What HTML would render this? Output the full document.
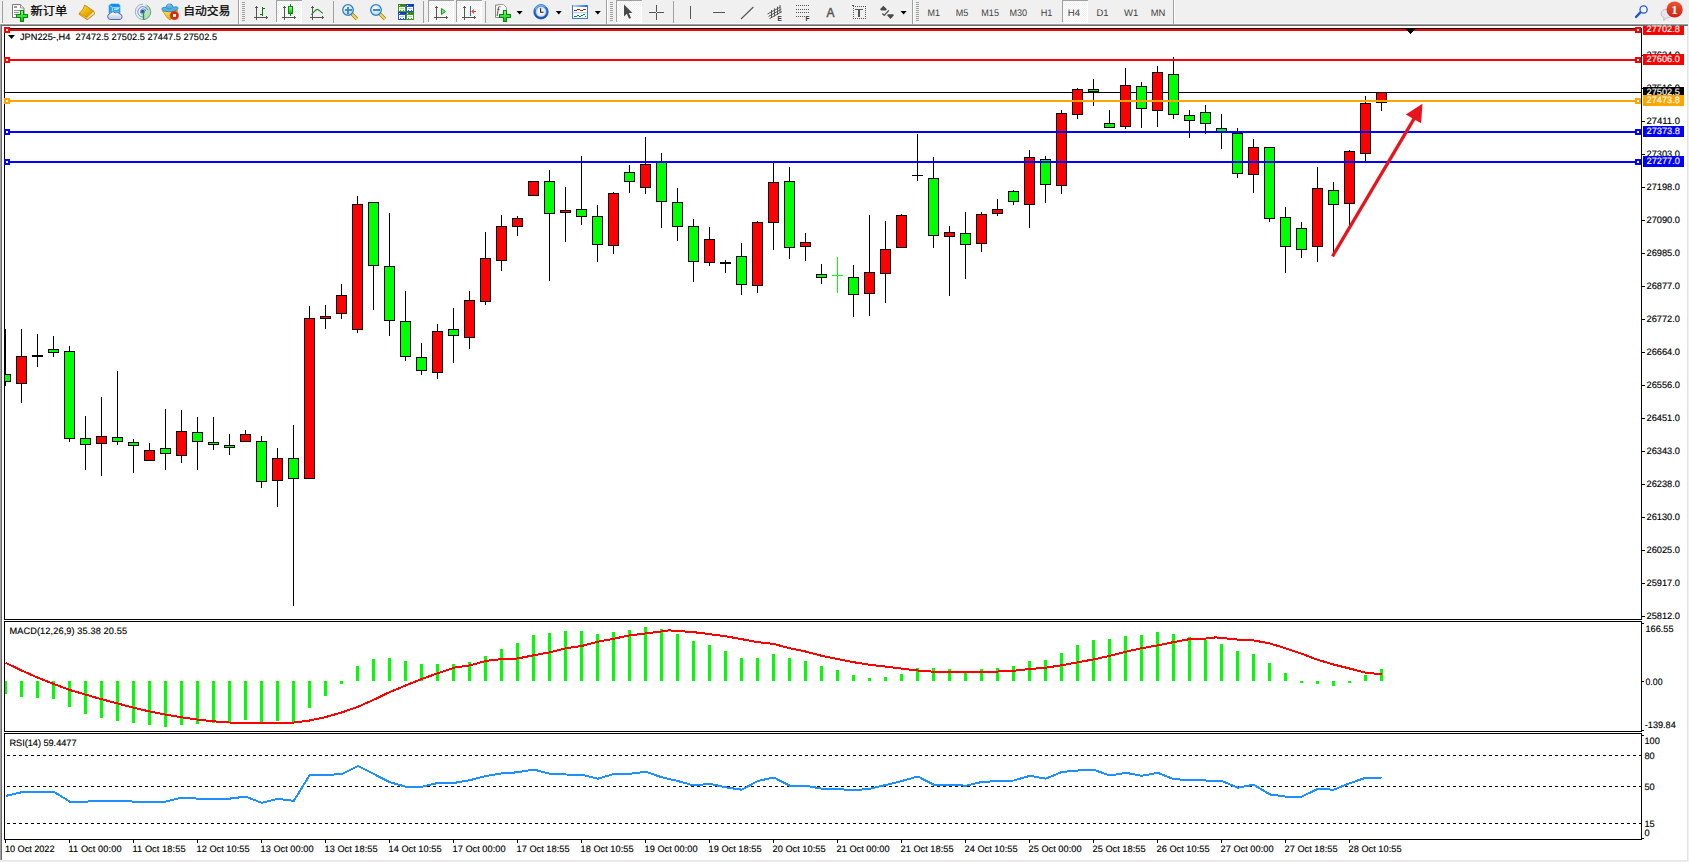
<!DOCTYPE html>
<html lang="zh"><head><meta charset="utf-8"><title>JPN225-,H4</title>
<style>html,body{margin:0;padding:0;background:#fff;overflow:hidden}body{width:1689px;height:862px;font-family:"Liberation Sans","Noto Sans CJK SC",sans-serif}svg{display:block}.t{font-family:"Liberation Sans","Noto Sans CJK SC",sans-serif;font-size:9.2px;fill:#000;stroke:#000;stroke-width:0.15px;text-rendering:geometricPrecision}.w{fill:#fff;stroke:#fff}.tb{font-family:"Liberation Sans","Noto Sans CJK SC",sans-serif;font-size:11.2px;fill:#000;stroke:#000;stroke-width:0.25px}.tf{font-family:"Liberation Sans","Noto Sans CJK SC",sans-serif;font-size:9.6px;fill:#404040;text-rendering:geometricPrecision}.c{shape-rendering:crispEdges}</style></head><body>
<svg width="1689" height="862" viewBox="0 0 1689 862">
<g class="c">
<rect x="0" y="0" width="1689" height="862" fill="#f0f0f0"/>
<rect x="0" y="24" width="1688" height="836" fill="#ffffff"/>
<rect x="0" y="23" width="1689" height="1" fill="#f8f8f8"/>
<rect x="0" y="24" width="1688" height="1" fill="#a0a0a0"/>
<rect x="0" y="25" width="1688" height="1" fill="#696969"/>
<rect x="0" y="24" width="1" height="836" fill="#a0a0a0"/>
<rect x="1" y="25" width="1" height="835" fill="#696969"/>
<rect x="1687" y="26" width="1" height="834" fill="#e3e3e3"/>
<rect x="2" y="860" width="1686" height="1" fill="#e3e3e3"/>
<rect x="1688" y="24" width="1" height="838" fill="#f0f0f0"/>
</g>
<defs><linearGradient id="gGold" x1="0" y1="0" x2="1" y2="1"><stop offset="0" stop-color="#ffe14a"/><stop offset="0.5" stop-color="#f0b400"/><stop offset="1" stop-color="#c98a00"/></linearGradient><linearGradient id="gCloud" x1="0" y1="0" x2="0" y2="1"><stop offset="0" stop-color="#ffffff"/><stop offset="1" stop-color="#b9c6de"/></linearGradient><linearGradient id="gBlue" x1="0" y1="0" x2="0" y2="1"><stop offset="0" stop-color="#0a8cf5"/><stop offset="1" stop-color="#35b0ff"/></linearGradient><linearGradient id="gGreen" x1="0" y1="0" x2="0" y2="1"><stop offset="0" stop-color="#7dff7d"/><stop offset="1" stop-color="#00c000"/></linearGradient><linearGradient id="gBadge" x1="0" y1="0" x2="0" y2="1"><stop offset="0" stop-color="#ea5636"/><stop offset="1" stop-color="#d21f0e"/></linearGradient><linearGradient id="gClock" x1="0" y1="0" x2="0" y2="1"><stop offset="0" stop-color="#2f86e6"/><stop offset="1" stop-color="#0d4fb0"/></linearGradient><radialGradient id="gLens" cx="0.4" cy="0.35" r="0.7"><stop offset="0" stop-color="#ffffff"/><stop offset="1" stop-color="#a8d4f5"/></radialGradient><pattern id="dith" width="2" height="2" patternUnits="userSpaceOnUse"><rect width="2" height="2" fill="#ffffff"/><rect width="1" height="1" fill="#f0f0f0"/><rect x="1" y="1" width="1" height="1" fill="#f0f0f0"/></pattern></defs>
<g class="c">
<rect x="2" y="1" width="1" height="22" fill="#a0a0a0"/>
<rect x="238" y="0" width="1" height="24" fill="#a0a0a0"/>
<rect x="239" y="0" width="1" height="24" fill="#ffffff"/>
<rect x="242" y="2" width="3" height="1" fill="#a0a0a0"/>
<rect x="242" y="4" width="3" height="1" fill="#a0a0a0"/>
<rect x="242" y="6" width="3" height="1" fill="#a0a0a0"/>
<rect x="242" y="8" width="3" height="1" fill="#a0a0a0"/>
<rect x="242" y="10" width="3" height="1" fill="#a0a0a0"/>
<rect x="242" y="12" width="3" height="1" fill="#a0a0a0"/>
<rect x="242" y="14" width="3" height="1" fill="#a0a0a0"/>
<rect x="242" y="16" width="3" height="1" fill="#a0a0a0"/>
<rect x="242" y="18" width="3" height="1" fill="#a0a0a0"/>
<rect x="242" y="20" width="3" height="1" fill="#a0a0a0"/>
<rect x="333" y="1" width="1" height="22" fill="#a0a0a0"/>
<rect x="423" y="1" width="1" height="22" fill="#a0a0a0"/>
<rect x="485" y="1" width="1" height="22" fill="#a0a0a0"/>
<rect x="606" y="0" width="1" height="24" fill="#a0a0a0"/>
<rect x="607" y="0" width="1" height="24" fill="#ffffff"/>
<rect x="610" y="2" width="3" height="1" fill="#a0a0a0"/>
<rect x="610" y="4" width="3" height="1" fill="#a0a0a0"/>
<rect x="610" y="6" width="3" height="1" fill="#a0a0a0"/>
<rect x="610" y="8" width="3" height="1" fill="#a0a0a0"/>
<rect x="610" y="10" width="3" height="1" fill="#a0a0a0"/>
<rect x="610" y="12" width="3" height="1" fill="#a0a0a0"/>
<rect x="610" y="14" width="3" height="1" fill="#a0a0a0"/>
<rect x="610" y="16" width="3" height="1" fill="#a0a0a0"/>
<rect x="610" y="18" width="3" height="1" fill="#a0a0a0"/>
<rect x="610" y="20" width="3" height="1" fill="#a0a0a0"/>
<rect x="673" y="1" width="1" height="22" fill="#a0a0a0"/>
<rect x="912" y="0" width="1" height="24" fill="#a0a0a0"/>
<rect x="913" y="0" width="1" height="24" fill="#ffffff"/>
<rect x="916" y="2" width="3" height="1" fill="#a0a0a0"/>
<rect x="916" y="4" width="3" height="1" fill="#a0a0a0"/>
<rect x="916" y="6" width="3" height="1" fill="#a0a0a0"/>
<rect x="916" y="8" width="3" height="1" fill="#a0a0a0"/>
<rect x="916" y="10" width="3" height="1" fill="#a0a0a0"/>
<rect x="916" y="12" width="3" height="1" fill="#a0a0a0"/>
<rect x="916" y="14" width="3" height="1" fill="#a0a0a0"/>
<rect x="916" y="16" width="3" height="1" fill="#a0a0a0"/>
<rect x="916" y="18" width="3" height="1" fill="#a0a0a0"/>
<rect x="916" y="20" width="3" height="1" fill="#a0a0a0"/>
<rect x="1173" y="0" width="1" height="24" fill="#a0a0a0"/>
<rect x="1174" y="0" width="1" height="24" fill="#ffffff"/>
<rect x="276" y="0" width="26" height="23" fill="url(#dith)"/>
<rect x="276" y="0" width="26" height="1" fill="#a0a0a0"/>
<rect x="276" y="0" width="1" height="22" fill="#a0a0a0"/>
<rect x="301" y="1" width="1" height="22" fill="#ffffff"/>
<rect x="276" y="22" width="26" height="1" fill="#ffffff"/>
<rect x="428" y="0" width="26" height="23" fill="url(#dith)"/>
<rect x="428" y="0" width="26" height="1" fill="#a0a0a0"/>
<rect x="428" y="0" width="1" height="22" fill="#a0a0a0"/>
<rect x="453" y="1" width="1" height="22" fill="#ffffff"/>
<rect x="428" y="22" width="26" height="1" fill="#ffffff"/>
<rect x="456" y="0" width="26" height="23" fill="url(#dith)"/>
<rect x="456" y="0" width="26" height="1" fill="#a0a0a0"/>
<rect x="456" y="0" width="1" height="22" fill="#a0a0a0"/>
<rect x="481" y="1" width="1" height="22" fill="#ffffff"/>
<rect x="456" y="22" width="26" height="1" fill="#ffffff"/>
<rect x="616" y="0" width="26" height="23" fill="url(#dith)"/>
<rect x="616" y="0" width="26" height="1" fill="#a0a0a0"/>
<rect x="616" y="0" width="1" height="22" fill="#a0a0a0"/>
<rect x="641" y="1" width="1" height="22" fill="#ffffff"/>
<rect x="616" y="22" width="26" height="1" fill="#ffffff"/>
<rect x="1062" y="0" width="26" height="23" fill="url(#dith)"/>
<rect x="1062" y="0" width="26" height="1" fill="#a0a0a0"/>
<rect x="1062" y="0" width="1" height="22" fill="#a0a0a0"/>
<rect x="1087" y="1" width="1" height="22" fill="#ffffff"/>
<rect x="1062" y="22" width="26" height="1" fill="#ffffff"/>
</g>
<g>
<path d="M12.5 4.5 h8 l3.5 3.5 v9.5 h-11.5 z" fill="#fff" stroke="#7a7a7a" stroke-width="1"/>
<path d="M20.5 4.5 v3.5 h3.5" fill="#e8e8e8" stroke="#7a7a7a" stroke-width="0.8"/>
<g class="c">
<rect x="14" y="6" width="3" height="2" fill="#9a9a9a"/>
<rect x="14" y="10" width="6" height="1" fill="#8c8c8c"/>
<rect x="14" y="12" width="5" height="1" fill="#8c8c8c"/>
<rect x="14" y="14" width="3" height="1" fill="#8c8c8c"/>
</g>
<g class="c">
<rect x="20" y="10" width="4" height="12" fill="#0b860b"/>
<rect x="16" y="14" width="12" height="4" fill="#0b860b"/>
<rect x="21" y="11" width="2" height="10" fill="url(#gGreen)"/>
<rect x="17" y="15" width="10" height="2" fill="#35e535"/>
</g>
</g>
<text class="tb" x="30.5" y="15" textLength="36.8" lengthAdjust="spacingAndGlyphs">新订单</text>
<path d="M84.6 5.1 L93.6 10.9 L94.7 13.9 L87.3 19.7 L79 14.3 L79.6 12.9 Q83 10 83.9 7.3 Z" fill="#c98a10" stroke="#a8680a" stroke-width="0.7" stroke-linejoin="round"/>
<path d="M93.4 11.4 L94.4 13.8 L87.3 19.2 L87 17.4 Z" fill="#e9dc9a"/>
<path d="M79.4 13.4 L86.9 17.4 L87.2 19.3 L79.3 14.4 Z" fill="#e8b530"/>
<path d="M84.7 5.6 L93.3 11.1 L86.9 17 L79.9 12.9 Q83.2 10.2 84.2 7.4 Z" fill="url(#gGold)"/>
<path d="M109 5.2 L111.4 4 H118.6 L120 5.6 V13.6 H109 Z" fill="url(#gBlue)" stroke="#0a84ea" stroke-width="0.5"/>
<path d="M109.6 5.6 L112.4 7.6 V12.8 M112.4 7.6 H119.8" stroke="#e4f4ff" stroke-width="0.7" fill="none"/>
<path d="M114.2 9.3 L118.8 8.6" stroke="#ecf8ff" stroke-width="1.2" fill="none"/>
<path d="M114.4 11.6 H119" stroke="#7cc8ff" stroke-width="0.8" fill="none"/>
<path d="M110.4 19.5 a2.9 2.9 0 0 1 -0.6 -5.7 a3.3 3.3 0 0 1 5.4 -0.9 a3 3 0 0 1 4.4 1 a2.9 2.9 0 0 1 0.6 5.6 z" fill="url(#gCloud)" stroke="#40609e" stroke-width="0.9"/>
<g fill="none">
<path d="M143.3 11.8 L143.3 19.7 A7.8 7.8 0 0 0 150.8 11 A7.6 7.6 0 0 0 145 4.4 A 9 9 0 0 1 143.3 11.8 Z" fill="#8fcf8f" opacity="0.55"/>
<path d="M144 19.6 A7.8 7.8 0 0 0 150.7 11.6 A7.7 7.7 0 0 0 146.6 5" stroke="#3e8f6a" stroke-width="1" opacity="0.8"/>
<path d="M143 19.5 A7.7 7.7 0 0 1 143 4.1" stroke="#6a8fe0" stroke-width="1" opacity="0.7"/>
<path d="M143 17 A5.2 5.2 0 0 1 143 6.6 A5.2 5.2 0 0 1 147.8 10" stroke="#4a74d6" stroke-width="1" opacity="0.8"/>
<path d="M142.4 14.6 A3 3 0 0 1 143 8.8 A3 3 0 0 1 145.8 11" stroke="#3c66d0" stroke-width="0.9" opacity="0.85"/>
<circle cx="142.8" cy="11.6" r="1.9" fill="#2450c8"/>
<path d="M143.5 12 V19.8" stroke="#17a317" stroke-width="1.4"/>
</g>
<defs><linearGradient id="gFace" x1="0" y1="0" x2="0.6" y2="1"><stop offset="0" stop-color="#fbe978"/><stop offset="1" stop-color="#e2a800"/></linearGradient></defs>
<path d="M162.6 11 L177.8 10.4 L176.4 13.6 L170 19.9 L167.4 18 Z" fill="url(#gFace)" stroke="#c8900e" stroke-width="0.8" stroke-linejoin="round"/>
<path d="M161.9 9.4 C161.6 7.4 164 6.9 166 7.6 C166.4 5 167.6 4 169.6 4 C171.8 4 172.8 5 173.2 7.4 C175.4 6.4 178.2 6.4 178 8.4 C177.6 10.4 173.4 11.7 169.8 11.6 C166 11.6 162.2 11 161.9 9.4 Z" fill="#5ab2e2" stroke="#2083b6" stroke-width="0.8"/>
<path d="M166.4 8 C168 9 171.4 9 173 7.8" fill="none" stroke="#2083b6" stroke-width="0.6"/>
<path d="M167.4 6 C168 5 169.4 4.8 170.4 5" fill="none" stroke="#a8dcf4" stroke-width="0.8"/>
<circle cx="174.4" cy="15.6" r="4.1" fill="#e02a0c" stroke="#c01c06" stroke-width="0.5"/>
<rect x="173" y="14" width="3" height="3" fill="#ffffff" class="c"/>
<text class="tb" x="183.2" y="15" textLength="47.2" lengthAdjust="spacingAndGlyphs">自动交易</text>
<g class="c" fill="#555555">
<rect x="256" y="7" width="1" height="13" fill="#555555"/>
<rect x="254" y="17" width="13" height="1" fill="#555555"/>
<rect x="256" y="6" width="1" height="1" fill="#555555"/>
<rect x="255" y="7" width="3" height="1" fill="#555555"/>
<rect x="266" y="16" width="1" height="3" fill="#555555"/>
<rect x="267" y="17" width="1" height="1" fill="#555555"/>
</g>
<g class="c">
<rect x="262" y="7" width="1" height="9" fill="#008000"/>
<rect x="263" y="8" width="2" height="1" fill="#008000"/>
<rect x="260" y="14" width="2" height="1" fill="#008000"/>
</g>
<g class="c" fill="#555555">
<rect x="284" y="7" width="1" height="13" fill="#555555"/>
<rect x="282" y="17" width="13" height="1" fill="#555555"/>
<rect x="284" y="6" width="1" height="1" fill="#555555"/>
<rect x="283" y="7" width="3" height="1" fill="#555555"/>
<rect x="294" y="16" width="1" height="3" fill="#555555"/>
<rect x="295" y="17" width="1" height="1" fill="#555555"/>
</g>
<g class="c">
<rect x="290" y="4" width="1" height="12" fill="#0a8a0a"/>
<rect x="288" y="6" width="5" height="8" fill="#0a8a0a"/>
<rect x="289" y="7" width="3" height="6" fill="url(#gGreen)"/>
</g>
<g class="c" fill="#555555">
<rect x="312" y="7" width="1" height="13" fill="#555555"/>
<rect x="310" y="17" width="13" height="1" fill="#555555"/>
<rect x="312" y="6" width="1" height="1" fill="#555555"/>
<rect x="311" y="7" width="3" height="1" fill="#555555"/>
<rect x="322" y="16" width="1" height="3" fill="#555555"/>
<rect x="323" y="17" width="1" height="1" fill="#555555"/>
</g>
<path d="M311.2 14.6 C313.5 13 315 9.6 317.2 9.4 C319.4 9.4 320.6 12.6 323 13.2" fill="none" stroke="#2a8a2a" stroke-width="1.1"/>
<path d="M352 14 L357 19" stroke="#a87c14" stroke-width="3.4" stroke-linecap="butt"/>
<path d="M352 14 L357 19" stroke="#f0dc50" stroke-width="1.8" stroke-linecap="butt"/>
<circle cx="348" cy="10" r="5.3" fill="url(#gLens)" stroke="#2f7fc8" stroke-width="1.3"/>
<g class="c">
<rect x="344.5" y="9" width="7" height="2" fill="#3f8cb8"/>
<rect x="347" y="6.5" width="2" height="7" fill="#3f8cb8"/>
</g>
<path d="M380 14 L385 19" stroke="#a87c14" stroke-width="3.4" stroke-linecap="butt"/>
<path d="M380 14 L385 19" stroke="#f0dc50" stroke-width="1.8" stroke-linecap="butt"/>
<circle cx="376" cy="10" r="5.3" fill="url(#gLens)" stroke="#2f7fc8" stroke-width="1.3"/>
<g class="c">
<rect x="372.5" y="9" width="7" height="2" fill="#3f8cb8"/>
</g>
<g class="c">
<rect x="398" y="4" width="8" height="8" fill="#3f9c22"/>
<rect x="398" y="4" width="8" height="2" fill="#2e8a1c"/>
<rect x="399" y="5" width="1" height="1" fill="#dfe8ff"/>
<rect x="399" y="7" width="6" height="4" fill="#ffffff"/>
<rect x="400" y="10" width="1" height="1" fill="#3f9c22"/>
<rect x="403" y="10" width="1" height="1" fill="#3f9c22"/>
<rect x="400" y="8" width="4" height="1" fill="#a8dca0"/>
<rect x="406" y="4" width="8" height="8" fill="#2458d0"/>
<rect x="406" y="4" width="8" height="2" fill="#1440b0"/>
<rect x="407" y="5" width="1" height="1" fill="#dfe8ff"/>
<rect x="407" y="7" width="6" height="4" fill="#ffffff"/>
<rect x="408" y="10" width="1" height="1" fill="#2458d0"/>
<rect x="411" y="10" width="1" height="1" fill="#2458d0"/>
<rect x="408" y="8" width="4" height="1" fill="#a8c8f0"/>
<rect x="398" y="12" width="8" height="8" fill="#2458d0"/>
<rect x="398" y="12" width="8" height="2" fill="#1440b0"/>
<rect x="399" y="13" width="1" height="1" fill="#dfe8ff"/>
<rect x="399" y="15" width="6" height="4" fill="#ffffff"/>
<rect x="400" y="18" width="1" height="1" fill="#2458d0"/>
<rect x="403" y="18" width="1" height="1" fill="#2458d0"/>
<rect x="400" y="16" width="4" height="1" fill="#a8c8f0"/>
<rect x="406" y="12" width="8" height="8" fill="#3f9c22"/>
<rect x="406" y="12" width="8" height="2" fill="#2e8a1c"/>
<rect x="407" y="13" width="1" height="1" fill="#dfe8ff"/>
<rect x="407" y="15" width="6" height="4" fill="#ffffff"/>
<rect x="408" y="18" width="1" height="1" fill="#3f9c22"/>
<rect x="411" y="18" width="1" height="1" fill="#3f9c22"/>
<rect x="408" y="16" width="4" height="1" fill="#a8dca0"/>
</g>
<g class="c" fill="#555555">
<rect x="436" y="7" width="1" height="13" fill="#555555"/>
<rect x="434" y="17" width="13" height="1" fill="#555555"/>
<rect x="436" y="6" width="1" height="1" fill="#555555"/>
<rect x="435" y="7" width="3" height="1" fill="#555555"/>
<rect x="446" y="16" width="1" height="3" fill="#555555"/>
<rect x="447" y="17" width="1" height="1" fill="#555555"/>
</g>
<path d="M441.5 8.5 L445.5 11.5 L441.5 14.5 Z" fill="#7be07b" stroke="#1f9a1f" stroke-width="1"/>
<g class="c" fill="#555555">
<rect x="464" y="7" width="1" height="13" fill="#555555"/>
<rect x="462" y="17" width="13" height="1" fill="#555555"/>
<rect x="464" y="6" width="1" height="1" fill="#555555"/>
<rect x="463" y="7" width="3" height="1" fill="#555555"/>
<rect x="474" y="16" width="1" height="3" fill="#555555"/>
<rect x="475" y="17" width="1" height="1" fill="#555555"/>
</g>
<g class="c">
<rect x="470" y="6" width="1" height="10" fill="#1f6fb0"/>
</g>
<path d="M476 11.5 H472.2 M474 9.6 L472 11.5 L474 13.4" fill="none" stroke="#e04a10" stroke-width="1.1"/>
<path d="M495.5 5 h5.5 l3 3 v9.5 h-8.5 z" fill="#f4f4f4" stroke="#8a8a8a" stroke-width="1"/>
<path d="M498 4.5 h5.5 l3 3 v9 h-2" fill="#f8f8f8" stroke="#8a8a8a" stroke-width="0.8"/>
<text x="496.6" y="13.8" font-family="'Liberation Serif',serif" font-style="italic" font-size="10px" fill="#333">f</text>
<g class="c">
<rect x="503" y="10" width="4" height="12" fill="#0b860b"/>
<rect x="499" y="14" width="12" height="4" fill="#0b860b"/>
<rect x="504" y="11" width="2" height="10" fill="url(#gGreen)"/>
<rect x="500" y="15" width="10" height="2" fill="#35e535"/>
</g>
<path d="M516.6 11 h6 l-3 3.4 z" fill="#000"/>
<circle cx="541" cy="11.8" r="7.2" fill="url(#gClock)" stroke="#0c48a4" stroke-width="0.7"/>
<path d="M535.2 9.4 A6.3 6.3 0 0 1 545.6 7.2" fill="none" stroke="#7cc0ff" stroke-width="1.2" opacity="0.8"/>
<circle cx="541" cy="11.8" r="5" fill="#eef2f6" stroke="#a8c4e4" stroke-width="0.6"/>
<g fill="#8a98a8">
<circle cx="541.00" cy="7.80" r="0.35"/>
<circle cx="543.00" cy="8.34" r="0.35"/>
<circle cx="544.46" cy="9.80" r="0.35"/>
<circle cx="545.00" cy="11.80" r="0.35"/>
<circle cx="544.46" cy="13.80" r="0.35"/>
<circle cx="543.00" cy="15.26" r="0.35"/>
<circle cx="541.00" cy="15.80" r="0.35"/>
<circle cx="539.00" cy="15.26" r="0.35"/>
<circle cx="537.54" cy="13.80" r="0.35"/>
<circle cx="537.00" cy="11.80" r="0.35"/>
<circle cx="537.54" cy="9.80" r="0.35"/>
<circle cx="539.00" cy="8.34" r="0.35"/>
</g>
<path d="M540.6 8.2 V12.2 H543.6" fill="none" stroke="#222" stroke-width="1.1"/>
<path d="M555.8 11 h6 l-3 3.4 z" fill="#000"/>
<defs><linearGradient id="gHdr" x1="0" y1="0" x2="1" y2="0"><stop offset="0" stop-color="#b8d8f8"/><stop offset="1" stop-color="#2f6fd0"/></linearGradient></defs>
<g class="c">
<rect x="572" y="5" width="16" height="14" fill="#3f7cd4"/>
<rect x="573" y="7" width="14" height="11" fill="#ffffff"/>
<rect x="573" y="5" width="14" height="2" fill="url(#gHdr)"/>
<rect x="573" y="12" width="14" height="1" fill="#b4d0f0"/>
<rect x="573" y="13" width="14" height="5" fill="#f2f8ff"/>
<rect x="574" y="10" width="3" height="1" fill="#a82408"/>
<rect x="577" y="9" width="3" height="1" fill="#a82408"/>
<rect x="580" y="10" width="3" height="1" fill="#a82408"/>
<rect x="583" y="9" width="3" height="1" fill="#a82408"/>
<rect x="574" y="16" width="3" height="1" fill="#128a2a"/>
<rect x="577" y="15" width="2" height="1" fill="#128a2a"/>
<rect x="579" y="16" width="2" height="1" fill="#128a2a"/>
<rect x="581" y="15" width="2" height="1" fill="#128a2a"/>
<rect x="583" y="14" width="2" height="1" fill="#128a2a"/>
<rect x="585" y="16" width="1" height="1" fill="#128a2a"/>
</g>
<path d="M594.8 11 h6 l-3 3.4 z" fill="#000"/>
<path d="M624 4.6 V16.4 L626.8 13.8 L629 18.8 L631 17.9 L628.8 13 L632.4 13 Z" fill="#4a4a4a"/>
<g class="c">
<rect x="656" y="5" width="1" height="15" fill="#555555"/>
<rect x="649" y="12" width="15" height="1" fill="#555555"/>
<rect x="656" y="12" width="1" height="1" fill="#f0f0f0"/>
<rect x="690" y="6" width="1" height="13" fill="#555555"/>
<rect x="713" y="12" width="12" height="1" fill="#555555"/>
</g>
<path d="M741 19 L753.4 7" stroke="#555" stroke-width="1.1" fill="none"/>
<g stroke="#555" stroke-width="1" fill="none">
<path d="M767.5 14 L780.5 7 M769.5 18.6 L782 11.6 M768.6 16.4 L781.4 9.2"/>
<path d="M771.5 10 V18 M774.5 8.4 V16.4 M777.5 6.6 V14.8 M780 5 V12.8"/>
</g>
<text x="777.6" y="20.6" font-family="'Liberation Sans',sans-serif" font-weight="bold" font-size="6.5px" fill="#333">E</text>
<g class="c">
<rect x="796" y="5" width="1" height="1" fill="#555555"/>
<rect x="798" y="5" width="1" height="1" fill="#555555"/>
<rect x="800" y="5" width="1" height="1" fill="#555555"/>
<rect x="802" y="5" width="1" height="1" fill="#555555"/>
<rect x="804" y="5" width="1" height="1" fill="#555555"/>
<rect x="806" y="5" width="1" height="1" fill="#555555"/>
<rect x="808" y="5" width="1" height="1" fill="#555555"/>
<rect x="796" y="9" width="1" height="1" fill="#555555"/>
<rect x="798" y="9" width="1" height="1" fill="#555555"/>
<rect x="800" y="9" width="1" height="1" fill="#555555"/>
<rect x="802" y="9" width="1" height="1" fill="#555555"/>
<rect x="804" y="9" width="1" height="1" fill="#555555"/>
<rect x="806" y="9" width="1" height="1" fill="#555555"/>
<rect x="808" y="9" width="1" height="1" fill="#555555"/>
<rect x="796" y="12" width="1" height="1" fill="#555555"/>
<rect x="798" y="12" width="1" height="1" fill="#555555"/>
<rect x="800" y="12" width="1" height="1" fill="#555555"/>
<rect x="802" y="12" width="1" height="1" fill="#555555"/>
<rect x="804" y="12" width="1" height="1" fill="#555555"/>
<rect x="806" y="12" width="1" height="1" fill="#555555"/>
<rect x="808" y="12" width="1" height="1" fill="#555555"/>
<rect x="796" y="16" width="1" height="1" fill="#555555"/>
<rect x="798" y="16" width="1" height="1" fill="#555555"/>
<rect x="800" y="16" width="1" height="1" fill="#555555"/>
<rect x="802" y="16" width="1" height="1" fill="#555555"/>
<rect x="804" y="16" width="1" height="1" fill="#555555"/>
</g>
<text x="805.6" y="21" font-family="'Liberation Sans',sans-serif" font-weight="bold" font-size="6.5px" fill="#333">F</text>
<text x="826.6" y="17" font-family="'Liberation Sans',sans-serif" font-size="12.4px" fill="#555" stroke="#555" stroke-width="0.45" textLength="8" lengthAdjust="spacingAndGlyphs">A</text>
<g class="c">
<rect x="853" y="6" width="1" height="1" fill="#555555"/>
<rect x="853" y="18" width="1" height="1" fill="#555555"/>
<rect x="855" y="6" width="1" height="1" fill="#555555"/>
<rect x="855" y="18" width="1" height="1" fill="#555555"/>
<rect x="857" y="6" width="1" height="1" fill="#555555"/>
<rect x="857" y="18" width="1" height="1" fill="#555555"/>
<rect x="859" y="6" width="1" height="1" fill="#555555"/>
<rect x="859" y="18" width="1" height="1" fill="#555555"/>
<rect x="861" y="6" width="1" height="1" fill="#555555"/>
<rect x="861" y="18" width="1" height="1" fill="#555555"/>
<rect x="863" y="6" width="1" height="1" fill="#555555"/>
<rect x="863" y="18" width="1" height="1" fill="#555555"/>
<rect x="865" y="6" width="1" height="1" fill="#555555"/>
<rect x="865" y="18" width="1" height="1" fill="#555555"/>
<rect x="853" y="6" width="1" height="1" fill="#555555"/>
<rect x="865" y="6" width="1" height="1" fill="#555555"/>
<rect x="853" y="8" width="1" height="1" fill="#555555"/>
<rect x="865" y="8" width="1" height="1" fill="#555555"/>
<rect x="853" y="10" width="1" height="1" fill="#555555"/>
<rect x="865" y="10" width="1" height="1" fill="#555555"/>
<rect x="853" y="12" width="1" height="1" fill="#555555"/>
<rect x="865" y="12" width="1" height="1" fill="#555555"/>
<rect x="853" y="14" width="1" height="1" fill="#555555"/>
<rect x="865" y="14" width="1" height="1" fill="#555555"/>
<rect x="853" y="16" width="1" height="1" fill="#555555"/>
<rect x="865" y="16" width="1" height="1" fill="#555555"/>
<rect x="853" y="18" width="1" height="1" fill="#555555"/>
<rect x="865" y="18" width="1" height="1" fill="#555555"/>
<rect x="855" y="9" width="8" height="1" fill="#555"/>
<rect x="858" y="9" width="2" height="8" fill="#555"/>
<rect x="852" y="5" width="2" height="1" fill="#555"/>
</g>
<path d="M880 9.2 L883.4 5.8 L886.9 9.2 L885.8 10.4 L881.2 10.4 Z M887 15.2 L888 14.2 L893 14.2 L894 15.2 L890.5 18.9 Z" fill="#4a4a4a"/>
<path d="M882.3 13.6 L884.3 15.4 L888.8 10.4" fill="none" stroke="#4a4a4a" stroke-width="1.3"/>
<path d="M900.6 11 h6 l-3 3.4 z" fill="#000"/>
<text class="tf" x="927.4" y="16" textLength="12.5" lengthAdjust="spacingAndGlyphs">M1</text>
<text class="tf" x="955.8" y="16" textLength="12.5" lengthAdjust="spacingAndGlyphs">M5</text>
<text class="tf" x="981.3" y="16" textLength="17.7" lengthAdjust="spacingAndGlyphs">M15</text>
<text class="tf" x="1009.4" y="16" textLength="17.6" lengthAdjust="spacingAndGlyphs">M30</text>
<text class="tf" x="1040.7" y="16" textLength="11.7" lengthAdjust="spacingAndGlyphs">H1</text>
<text class="tf" x="1067.7" y="16" textLength="12.3" lengthAdjust="spacingAndGlyphs">H4</text>
<text class="tf" x="1096.4" y="16" textLength="12.1" lengthAdjust="spacingAndGlyphs">D1</text>
<text class="tf" x="1124" y="16" textLength="14.3" lengthAdjust="spacingAndGlyphs">W1</text>
<text class="tf" x="1150.7" y="16" textLength="14.6" lengthAdjust="spacingAndGlyphs">MN</text>
<path d="M1640.4 12.4 L1636 17" stroke="#1f56c8" stroke-width="2.4" stroke-linecap="round"/>
<circle cx="1643.6" cy="9.5" r="3.6" fill="#f4f6ff" stroke="#2458d0" stroke-width="1.3"/>
<path d="M1661 13.4 a5.6 4.4 0 1 1 5.4 4.6 l-2.6 2.6 l0.2 -2.9 a5.4 4.4 0 0 1 -3 -4.3 z" fill="#e4e6f2" stroke="#b4b4b8" stroke-width="0.8"/>
<circle cx="1674.6" cy="9.5" r="8.1" fill="url(#gBadge)"/>
<text x="1674.6" y="14" text-anchor="middle" font-family="'Liberation Serif',serif" font-weight="bold" font-size="13px" fill="#fff">1</text>
<g class="c">
<rect x="4" y="28" width="1638" height="1" fill="#000"/>
<rect x="4" y="28" width="1" height="592" fill="#000"/>
<rect x="1641" y="28" width="1" height="592" fill="#000"/>
<rect x="4" y="619" width="1638" height="1" fill="#000"/>
<rect x="4" y="621" width="1638" height="1" fill="#000"/>
<rect x="4" y="621" width="1" height="111" fill="#000"/>
<rect x="1641" y="621" width="1" height="111" fill="#000"/>
<rect x="4" y="731" width="1638" height="1" fill="#000"/>
<rect x="4" y="733" width="1638" height="1" fill="#000"/>
<rect x="4" y="733" width="1" height="107" fill="#000"/>
<rect x="1641" y="733" width="1" height="107" fill="#000"/>
<rect x="4" y="839" width="1638" height="1" fill="#000"/>
</g>
<g class="c">
<rect x="5" y="92" width="1636" height="1" fill="#000"/>
<rect x="5" y="329" width="1" height="57" fill="#000"/>
<rect x="5" y="374" width="6" height="8" fill="#000"/>
<rect x="5" y="375" width="5" height="6" fill="#00ff00"/>
<rect x="21" y="329" width="1" height="74" fill="#000"/>
<rect x="16" y="356" width="11" height="28" fill="#000"/>
<rect x="17" y="357" width="9" height="26" fill="#ff0000"/>
<rect x="37" y="334" width="1" height="33" fill="#000"/>
<rect x="32" y="355" width="11" height="2" fill="#000"/>
<rect x="53" y="336" width="1" height="21" fill="#000"/>
<rect x="48" y="349" width="11" height="4" fill="#000"/>
<rect x="49" y="350" width="9" height="2" fill="#00ff00"/>
<rect x="69" y="346" width="1" height="96" fill="#000"/>
<rect x="64" y="351" width="11" height="88" fill="#000"/>
<rect x="65" y="352" width="9" height="86" fill="#00ff00"/>
<rect x="85" y="416" width="1" height="54" fill="#000"/>
<rect x="80" y="438" width="11" height="7" fill="#000"/>
<rect x="81" y="439" width="9" height="5" fill="#00ff00"/>
<rect x="101" y="397" width="1" height="79" fill="#000"/>
<rect x="96" y="436" width="11" height="8" fill="#000"/>
<rect x="97" y="437" width="9" height="6" fill="#ff0000"/>
<rect x="117" y="371" width="1" height="74" fill="#000"/>
<rect x="112" y="437" width="11" height="5" fill="#000"/>
<rect x="113" y="438" width="9" height="3" fill="#00ff00"/>
<rect x="133" y="439" width="1" height="34" fill="#000"/>
<rect x="128" y="442" width="11" height="4" fill="#000"/>
<rect x="129" y="443" width="9" height="2" fill="#00ff00"/>
<rect x="149" y="443" width="1" height="18" fill="#000"/>
<rect x="144" y="450" width="11" height="11" fill="#000"/>
<rect x="145" y="451" width="9" height="9" fill="#ff0000"/>
<rect x="165" y="409" width="1" height="61" fill="#000"/>
<rect x="160" y="448" width="11" height="6" fill="#000"/>
<rect x="161" y="449" width="9" height="4" fill="#00ff00"/>
<rect x="181" y="410" width="1" height="53" fill="#000"/>
<rect x="176" y="431" width="11" height="25" fill="#000"/>
<rect x="177" y="432" width="9" height="23" fill="#ff0000"/>
<rect x="197" y="417" width="1" height="53" fill="#000"/>
<rect x="192" y="432" width="11" height="10" fill="#000"/>
<rect x="193" y="433" width="9" height="8" fill="#00ff00"/>
<rect x="213" y="417" width="1" height="33" fill="#000"/>
<rect x="208" y="442" width="11" height="3" fill="#000"/>
<rect x="209" y="443" width="9" height="1" fill="#00ff00"/>
<rect x="229" y="434" width="1" height="21" fill="#000"/>
<rect x="224" y="445" width="11" height="3" fill="#000"/>
<rect x="225" y="446" width="9" height="1" fill="#00ff00"/>
<rect x="245" y="430" width="1" height="12" fill="#000"/>
<rect x="240" y="434" width="11" height="8" fill="#000"/>
<rect x="241" y="435" width="9" height="6" fill="#ff0000"/>
<rect x="261" y="436" width="1" height="52" fill="#000"/>
<rect x="256" y="441" width="11" height="41" fill="#000"/>
<rect x="257" y="442" width="9" height="39" fill="#00ff00"/>
<rect x="277" y="448" width="1" height="59" fill="#000"/>
<rect x="272" y="458" width="11" height="23" fill="#000"/>
<rect x="273" y="459" width="9" height="21" fill="#ff0000"/>
<rect x="293" y="425" width="1" height="181" fill="#000"/>
<rect x="288" y="458" width="11" height="21" fill="#000"/>
<rect x="289" y="459" width="9" height="19" fill="#00ff00"/>
<rect x="309" y="306" width="1" height="173" fill="#000"/>
<rect x="304" y="318" width="11" height="161" fill="#000"/>
<rect x="305" y="319" width="9" height="159" fill="#ff0000"/>
<rect x="325" y="305" width="1" height="24" fill="#000"/>
<rect x="320" y="316" width="11" height="3" fill="#000"/>
<rect x="321" y="317" width="9" height="1" fill="#ff0000"/>
<rect x="341" y="284" width="1" height="35" fill="#000"/>
<rect x="336" y="295" width="11" height="19" fill="#000"/>
<rect x="337" y="296" width="9" height="17" fill="#ff0000"/>
<rect x="357" y="196" width="1" height="137" fill="#000"/>
<rect x="352" y="204" width="11" height="126" fill="#000"/>
<rect x="353" y="205" width="9" height="124" fill="#ff0000"/>
<rect x="373" y="202" width="1" height="108" fill="#000"/>
<rect x="368" y="202" width="11" height="64" fill="#000"/>
<rect x="369" y="203" width="9" height="62" fill="#00ff00"/>
<rect x="389" y="213" width="1" height="123" fill="#000"/>
<rect x="384" y="266" width="11" height="55" fill="#000"/>
<rect x="385" y="267" width="9" height="53" fill="#00ff00"/>
<rect x="405" y="291" width="1" height="70" fill="#000"/>
<rect x="400" y="321" width="11" height="36" fill="#000"/>
<rect x="401" y="322" width="9" height="34" fill="#00ff00"/>
<rect x="421" y="343" width="1" height="32" fill="#000"/>
<rect x="416" y="357" width="11" height="14" fill="#000"/>
<rect x="417" y="358" width="9" height="12" fill="#00ff00"/>
<rect x="437" y="324" width="1" height="55" fill="#000"/>
<rect x="432" y="331" width="11" height="42" fill="#000"/>
<rect x="433" y="332" width="9" height="40" fill="#ff0000"/>
<rect x="453" y="308" width="1" height="55" fill="#000"/>
<rect x="448" y="329" width="11" height="7" fill="#000"/>
<rect x="449" y="330" width="9" height="5" fill="#00ff00"/>
<rect x="469" y="291" width="1" height="58" fill="#000"/>
<rect x="464" y="300" width="11" height="38" fill="#000"/>
<rect x="465" y="301" width="9" height="36" fill="#ff0000"/>
<rect x="485" y="232" width="1" height="73" fill="#000"/>
<rect x="480" y="258" width="11" height="44" fill="#000"/>
<rect x="481" y="259" width="9" height="42" fill="#ff0000"/>
<rect x="501" y="215" width="1" height="56" fill="#000"/>
<rect x="496" y="226" width="11" height="35" fill="#000"/>
<rect x="497" y="227" width="9" height="33" fill="#ff0000"/>
<rect x="517" y="216" width="1" height="20" fill="#000"/>
<rect x="512" y="218" width="11" height="9" fill="#000"/>
<rect x="513" y="219" width="9" height="7" fill="#ff0000"/>
<rect x="533" y="181" width="1" height="15" fill="#000"/>
<rect x="528" y="181" width="11" height="15" fill="#000"/>
<rect x="529" y="182" width="9" height="13" fill="#ff0000"/>
<rect x="549" y="170" width="1" height="111" fill="#000"/>
<rect x="544" y="181" width="11" height="33" fill="#000"/>
<rect x="545" y="182" width="9" height="31" fill="#00ff00"/>
<rect x="565" y="187" width="1" height="55" fill="#000"/>
<rect x="560" y="210" width="11" height="3" fill="#000"/>
<rect x="561" y="211" width="9" height="1" fill="#ff0000"/>
<rect x="581" y="156" width="1" height="69" fill="#000"/>
<rect x="576" y="209" width="11" height="8" fill="#000"/>
<rect x="577" y="210" width="9" height="6" fill="#00ff00"/>
<rect x="597" y="205" width="1" height="57" fill="#000"/>
<rect x="592" y="216" width="11" height="29" fill="#000"/>
<rect x="593" y="217" width="9" height="27" fill="#00ff00"/>
<rect x="613" y="192" width="1" height="62" fill="#000"/>
<rect x="608" y="193" width="11" height="53" fill="#000"/>
<rect x="609" y="194" width="9" height="51" fill="#ff0000"/>
<rect x="629" y="165" width="1" height="28" fill="#000"/>
<rect x="624" y="172" width="11" height="10" fill="#000"/>
<rect x="625" y="173" width="9" height="8" fill="#00ff00"/>
<rect x="645" y="137" width="1" height="57" fill="#000"/>
<rect x="640" y="164" width="11" height="24" fill="#000"/>
<rect x="641" y="165" width="9" height="22" fill="#ff0000"/>
<rect x="661" y="153" width="1" height="75" fill="#000"/>
<rect x="656" y="162" width="11" height="40" fill="#000"/>
<rect x="657" y="163" width="9" height="38" fill="#00ff00"/>
<rect x="677" y="188" width="1" height="53" fill="#000"/>
<rect x="672" y="202" width="11" height="25" fill="#000"/>
<rect x="673" y="203" width="9" height="23" fill="#00ff00"/>
<rect x="693" y="219" width="1" height="63" fill="#000"/>
<rect x="688" y="226" width="11" height="36" fill="#000"/>
<rect x="689" y="227" width="9" height="34" fill="#00ff00"/>
<rect x="709" y="227" width="1" height="39" fill="#000"/>
<rect x="704" y="239" width="11" height="24" fill="#000"/>
<rect x="705" y="240" width="9" height="22" fill="#ff0000"/>
<rect x="725" y="260" width="1" height="13" fill="#000"/>
<rect x="720" y="262" width="11" height="2" fill="#000"/>
<rect x="741" y="243" width="1" height="52" fill="#000"/>
<rect x="736" y="256" width="11" height="29" fill="#000"/>
<rect x="737" y="257" width="9" height="27" fill="#00ff00"/>
<rect x="757" y="221" width="1" height="72" fill="#000"/>
<rect x="752" y="222" width="11" height="64" fill="#000"/>
<rect x="753" y="223" width="9" height="62" fill="#ff0000"/>
<rect x="773" y="163" width="1" height="87" fill="#000"/>
<rect x="768" y="182" width="11" height="41" fill="#000"/>
<rect x="769" y="183" width="9" height="39" fill="#ff0000"/>
<rect x="789" y="167" width="1" height="92" fill="#000"/>
<rect x="784" y="181" width="11" height="67" fill="#000"/>
<rect x="785" y="182" width="9" height="65" fill="#00ff00"/>
<rect x="805" y="233" width="1" height="28" fill="#000"/>
<rect x="800" y="242" width="11" height="5" fill="#000"/>
<rect x="801" y="243" width="9" height="3" fill="#ff0000"/>
<rect x="821" y="264" width="1" height="20" fill="#000"/>
<rect x="816" y="274" width="11" height="4" fill="#000"/>
<rect x="817" y="275" width="9" height="2" fill="#00ff00"/>
<rect x="837" y="257" width="1" height="36" fill="#00ff00"/>
<rect x="832" y="275" width="11" height="1" fill="#00ff00"/>
<rect x="853" y="265" width="1" height="52" fill="#000"/>
<rect x="848" y="277" width="11" height="18" fill="#000"/>
<rect x="849" y="278" width="9" height="16" fill="#00ff00"/>
<rect x="869" y="215" width="1" height="101" fill="#000"/>
<rect x="864" y="272" width="11" height="22" fill="#000"/>
<rect x="865" y="273" width="9" height="20" fill="#ff0000"/>
<rect x="885" y="221" width="1" height="82" fill="#000"/>
<rect x="880" y="249" width="11" height="25" fill="#000"/>
<rect x="881" y="250" width="9" height="23" fill="#ff0000"/>
<rect x="901" y="214" width="1" height="34" fill="#000"/>
<rect x="896" y="215" width="11" height="33" fill="#000"/>
<rect x="897" y="216" width="9" height="31" fill="#ff0000"/>
<rect x="917" y="134" width="1" height="47" fill="#000"/>
<rect x="912" y="175" width="11" height="1" fill="#000"/>
<rect x="933" y="157" width="1" height="91" fill="#000"/>
<rect x="928" y="178" width="11" height="58" fill="#000"/>
<rect x="929" y="179" width="9" height="56" fill="#00ff00"/>
<rect x="949" y="226" width="1" height="70" fill="#000"/>
<rect x="944" y="232" width="11" height="5" fill="#000"/>
<rect x="945" y="233" width="9" height="3" fill="#ff0000"/>
<rect x="965" y="212" width="1" height="67" fill="#000"/>
<rect x="960" y="233" width="11" height="12" fill="#000"/>
<rect x="961" y="234" width="9" height="10" fill="#00ff00"/>
<rect x="981" y="212" width="1" height="40" fill="#000"/>
<rect x="976" y="214" width="11" height="30" fill="#000"/>
<rect x="977" y="215" width="9" height="28" fill="#ff0000"/>
<rect x="997" y="199" width="1" height="17" fill="#000"/>
<rect x="992" y="209" width="11" height="5" fill="#000"/>
<rect x="993" y="210" width="9" height="3" fill="#ff0000"/>
<rect x="1013" y="190" width="1" height="15" fill="#000"/>
<rect x="1008" y="191" width="11" height="11" fill="#000"/>
<rect x="1009" y="192" width="9" height="9" fill="#00ff00"/>
<rect x="1029" y="150" width="1" height="78" fill="#000"/>
<rect x="1024" y="157" width="11" height="48" fill="#000"/>
<rect x="1025" y="158" width="9" height="46" fill="#ff0000"/>
<rect x="1045" y="156" width="1" height="47" fill="#000"/>
<rect x="1040" y="159" width="11" height="26" fill="#000"/>
<rect x="1041" y="160" width="9" height="24" fill="#00ff00"/>
<rect x="1061" y="110" width="1" height="84" fill="#000"/>
<rect x="1056" y="113" width="11" height="73" fill="#000"/>
<rect x="1057" y="114" width="9" height="71" fill="#ff0000"/>
<rect x="1077" y="88" width="1" height="31" fill="#000"/>
<rect x="1072" y="89" width="11" height="26" fill="#000"/>
<rect x="1073" y="90" width="9" height="24" fill="#ff0000"/>
<rect x="1093" y="79" width="1" height="27" fill="#000"/>
<rect x="1088" y="89" width="11" height="3" fill="#000"/>
<rect x="1089" y="90" width="9" height="1" fill="#00ff00"/>
<rect x="1109" y="110" width="1" height="18" fill="#000"/>
<rect x="1104" y="123" width="11" height="5" fill="#000"/>
<rect x="1105" y="124" width="9" height="3" fill="#00ff00"/>
<rect x="1125" y="68" width="1" height="61" fill="#000"/>
<rect x="1120" y="85" width="11" height="42" fill="#000"/>
<rect x="1121" y="86" width="9" height="40" fill="#ff0000"/>
<rect x="1141" y="82" width="1" height="46" fill="#000"/>
<rect x="1136" y="86" width="11" height="23" fill="#000"/>
<rect x="1137" y="87" width="9" height="21" fill="#00ff00"/>
<rect x="1157" y="66" width="1" height="61" fill="#000"/>
<rect x="1152" y="72" width="11" height="39" fill="#000"/>
<rect x="1153" y="73" width="9" height="37" fill="#ff0000"/>
<rect x="1173" y="57" width="1" height="62" fill="#000"/>
<rect x="1168" y="74" width="11" height="41" fill="#000"/>
<rect x="1169" y="75" width="9" height="39" fill="#00ff00"/>
<rect x="1189" y="110" width="1" height="28" fill="#000"/>
<rect x="1184" y="115" width="11" height="6" fill="#000"/>
<rect x="1185" y="116" width="9" height="4" fill="#00ff00"/>
<rect x="1205" y="105" width="1" height="29" fill="#000"/>
<rect x="1200" y="112" width="11" height="12" fill="#000"/>
<rect x="1201" y="113" width="9" height="10" fill="#00ff00"/>
<rect x="1221" y="114" width="1" height="35" fill="#000"/>
<rect x="1216" y="128" width="11" height="4" fill="#000"/>
<rect x="1217" y="129" width="9" height="2" fill="#00ff00"/>
<rect x="1237" y="128" width="1" height="50" fill="#000"/>
<rect x="1232" y="133" width="11" height="41" fill="#000"/>
<rect x="1233" y="134" width="9" height="39" fill="#00ff00"/>
<rect x="1253" y="139" width="1" height="54" fill="#000"/>
<rect x="1248" y="147" width="11" height="28" fill="#000"/>
<rect x="1249" y="148" width="9" height="26" fill="#ff0000"/>
<rect x="1269" y="147" width="1" height="75" fill="#000"/>
<rect x="1264" y="147" width="11" height="72" fill="#000"/>
<rect x="1265" y="148" width="9" height="70" fill="#00ff00"/>
<rect x="1285" y="207" width="1" height="66" fill="#000"/>
<rect x="1280" y="217" width="11" height="30" fill="#000"/>
<rect x="1281" y="218" width="9" height="28" fill="#00ff00"/>
<rect x="1301" y="222" width="1" height="36" fill="#000"/>
<rect x="1296" y="228" width="11" height="22" fill="#000"/>
<rect x="1297" y="229" width="9" height="20" fill="#00ff00"/>
<rect x="1317" y="167" width="1" height="95" fill="#000"/>
<rect x="1312" y="188" width="11" height="59" fill="#000"/>
<rect x="1313" y="189" width="9" height="57" fill="#ff0000"/>
<rect x="1333" y="182" width="1" height="72" fill="#000"/>
<rect x="1328" y="190" width="11" height="15" fill="#000"/>
<rect x="1329" y="191" width="9" height="13" fill="#00ff00"/>
<rect x="1349" y="150" width="1" height="75" fill="#000"/>
<rect x="1344" y="151" width="11" height="53" fill="#000"/>
<rect x="1345" y="152" width="9" height="51" fill="#ff0000"/>
<rect x="1365" y="96" width="1" height="65" fill="#000"/>
<rect x="1360" y="103" width="11" height="51" fill="#000"/>
<rect x="1361" y="104" width="9" height="49" fill="#ff0000"/>
<rect x="1381" y="92" width="1" height="19" fill="#000"/>
<rect x="1376" y="92" width="11" height="11" fill="#000"/>
<rect x="1377" y="93" width="9" height="9" fill="#ff0000"/>
</g>
<g class="c">
<rect x="5" y="29" width="1636" height="2" fill="#ff0000"/>
<rect x="4" y="27" width="6" height="6" fill="#ff0000"/>
<rect x="6" y="29" width="2" height="2" fill="#fff"/>
<rect x="1635" y="27" width="6" height="6" fill="#ff0000"/>
<rect x="1637" y="29" width="2" height="2" fill="#fff"/>
<rect x="5" y="59" width="1636" height="2" fill="#ff0000"/>
<rect x="4" y="57" width="6" height="6" fill="#ff0000"/>
<rect x="6" y="59" width="2" height="2" fill="#fff"/>
<rect x="1635" y="57" width="6" height="6" fill="#ff0000"/>
<rect x="1637" y="59" width="2" height="2" fill="#fff"/>
<rect x="5" y="100" width="1636" height="2" fill="#ffa500"/>
<rect x="4" y="98" width="6" height="6" fill="#ffa500"/>
<rect x="6" y="100" width="2" height="2" fill="#fff"/>
<rect x="1635" y="98" width="6" height="6" fill="#ffa500"/>
<rect x="1637" y="100" width="2" height="2" fill="#fff"/>
<rect x="5" y="131" width="1636" height="2" fill="#0000ff"/>
<rect x="4" y="129" width="6" height="6" fill="#0000ff"/>
<rect x="6" y="131" width="2" height="2" fill="#fff"/>
<rect x="1635" y="129" width="6" height="6" fill="#0000ff"/>
<rect x="1637" y="131" width="2" height="2" fill="#fff"/>
<rect x="5" y="161" width="1636" height="2" fill="#0000ff"/>
<rect x="4" y="159" width="6" height="6" fill="#0000ff"/>
<rect x="6" y="161" width="2" height="2" fill="#fff"/>
<rect x="1635" y="159" width="6" height="6" fill="#0000ff"/>
<rect x="1637" y="161" width="2" height="2" fill="#fff"/>
<rect x="1406" y="29" width="9" height="1" fill="#000"/>
<rect x="1407" y="30" width="7" height="1" fill="#000"/>
<rect x="1408" y="31" width="5" height="1" fill="#000"/>
<rect x="1409" y="32" width="3" height="1" fill="#000"/>
<rect x="1410" y="33" width="1" height="1" fill="#000"/>
</g>
<g class="c">
<rect x="1642" y="55" width="3" height="1" fill="#000"/>
<rect x="1642" y="88" width="3" height="1" fill="#000"/>
<rect x="1642" y="121" width="3" height="1" fill="#000"/>
<rect x="1642" y="154" width="3" height="1" fill="#000"/>
<rect x="1642" y="187" width="3" height="1" fill="#000"/>
<rect x="1642" y="220" width="3" height="1" fill="#000"/>
<rect x="1642" y="253" width="3" height="1" fill="#000"/>
<rect x="1642" y="286" width="3" height="1" fill="#000"/>
<rect x="1642" y="319" width="3" height="1" fill="#000"/>
<rect x="1642" y="352" width="3" height="1" fill="#000"/>
<rect x="1642" y="385" width="3" height="1" fill="#000"/>
<rect x="1642" y="418" width="3" height="1" fill="#000"/>
<rect x="1642" y="451" width="3" height="1" fill="#000"/>
<rect x="1642" y="484" width="3" height="1" fill="#000"/>
<rect x="1642" y="517" width="3" height="1" fill="#000"/>
<rect x="1642" y="550" width="3" height="1" fill="#000"/>
<rect x="1642" y="583" width="3" height="1" fill="#000"/>
<rect x="1642" y="616" width="3" height="1" fill="#000"/>
</g>
<text class="t" x="1646.5" y="58.4" textLength="33.5" lengthAdjust="spacingAndGlyphs">27624.0</text>
<text class="t" x="1646.5" y="91.4" textLength="33.5" lengthAdjust="spacingAndGlyphs">27516.0</text>
<text class="t" x="1646.5" y="124.4" textLength="33.5" lengthAdjust="spacingAndGlyphs">27411.0</text>
<text class="t" x="1646.5" y="157.4" textLength="33.5" lengthAdjust="spacingAndGlyphs">27303.0</text>
<text class="t" x="1646.5" y="190.4" textLength="33.5" lengthAdjust="spacingAndGlyphs">27198.0</text>
<text class="t" x="1646.5" y="223.4" textLength="33.5" lengthAdjust="spacingAndGlyphs">27090.0</text>
<text class="t" x="1646.5" y="256.4" textLength="33.5" lengthAdjust="spacingAndGlyphs">26985.0</text>
<text class="t" x="1646.5" y="289.4" textLength="33.5" lengthAdjust="spacingAndGlyphs">26877.0</text>
<text class="t" x="1646.5" y="322.4" textLength="33.5" lengthAdjust="spacingAndGlyphs">26772.0</text>
<text class="t" x="1646.5" y="355.4" textLength="33.5" lengthAdjust="spacingAndGlyphs">26664.0</text>
<text class="t" x="1646.5" y="388.4" textLength="33.5" lengthAdjust="spacingAndGlyphs">26556.0</text>
<text class="t" x="1646.5" y="421.4" textLength="33.5" lengthAdjust="spacingAndGlyphs">26451.0</text>
<text class="t" x="1646.5" y="454.4" textLength="33.5" lengthAdjust="spacingAndGlyphs">26343.0</text>
<text class="t" x="1646.5" y="487.4" textLength="33.5" lengthAdjust="spacingAndGlyphs">26238.0</text>
<text class="t" x="1646.5" y="520.4" textLength="33.5" lengthAdjust="spacingAndGlyphs">26130.0</text>
<text class="t" x="1646.5" y="553.4" textLength="33.5" lengthAdjust="spacingAndGlyphs">26025.0</text>
<text class="t" x="1646.5" y="586.4" textLength="33.5" lengthAdjust="spacingAndGlyphs">25917.0</text>
<text class="t" x="1646.5" y="619.4" textLength="33.5" lengthAdjust="spacingAndGlyphs">25812.0</text>
<g class="c">
<rect x="1643" y="26" width="41" height="9" fill="#ff0000"/>
<rect x="1643" y="54" width="41" height="11" fill="#ff0000"/>
<rect x="1643" y="87" width="41" height="11" fill="#000"/>
<rect x="1643" y="95" width="41" height="11" fill="#ffa500"/>
<rect x="1643" y="126" width="41" height="11" fill="#0000ff"/>
<rect x="1643" y="156" width="41" height="11" fill="#0000ff"/>
</g>
<text class="t w" x="1646.5" y="32.4" textLength="33.5" lengthAdjust="spacingAndGlyphs">27702.8</text>
<text class="t w" x="1646.5" y="62.4" textLength="33.5" lengthAdjust="spacingAndGlyphs">27606.0</text>
<text class="t w" x="1646.5" y="103.4" textLength="33.5" lengthAdjust="spacingAndGlyphs">27473.8</text>
<text class="t w" x="1646.5" y="134.4" textLength="33.5" lengthAdjust="spacingAndGlyphs">27373.8</text>
<text class="t w" x="1646.5" y="164.4" textLength="33.5" lengthAdjust="spacingAndGlyphs">27277.0</text>
<clipPath id="bidclip"><rect x="1643" y="87" width="41" height="8"/></clipPath>
<text class="t w" clip-path="url(#bidclip)" x="1646.5" y="95.2" textLength="33.5" lengthAdjust="spacingAndGlyphs">27502.5</text>
<path d="M8 35h7l-3.5 4z" fill="#000"/>
<text class="t" x="20" y="39.5" textLength="197" lengthAdjust="spacing" xml:space="preserve">JPN225-,H4  27472.5 27502.5 27447.5 27502.5</text>
<g class="c">
<rect x="5" y="681" width="2" height="13" fill="#00ff00"/>
<rect x="20" y="681" width="3" height="16" fill="#00ff00"/>
<rect x="36" y="681" width="3" height="17" fill="#00ff00"/>
<rect x="52" y="681" width="3" height="18" fill="#00ff00"/>
<rect x="68" y="681" width="3" height="26" fill="#00ff00"/>
<rect x="84" y="681" width="3" height="33" fill="#00ff00"/>
<rect x="100" y="681" width="3" height="37" fill="#00ff00"/>
<rect x="116" y="681" width="3" height="40" fill="#00ff00"/>
<rect x="132" y="681" width="3" height="42" fill="#00ff00"/>
<rect x="148" y="681" width="3" height="44" fill="#00ff00"/>
<rect x="164" y="681" width="3" height="46" fill="#00ff00"/>
<rect x="180" y="681" width="3" height="44" fill="#00ff00"/>
<rect x="196" y="681" width="3" height="43" fill="#00ff00"/>
<rect x="212" y="681" width="3" height="42" fill="#00ff00"/>
<rect x="228" y="681" width="3" height="41" fill="#00ff00"/>
<rect x="244" y="681" width="3" height="39" fill="#00ff00"/>
<rect x="260" y="681" width="3" height="41" fill="#00ff00"/>
<rect x="276" y="681" width="3" height="40" fill="#00ff00"/>
<rect x="292" y="681" width="3" height="41" fill="#00ff00"/>
<rect x="308" y="681" width="3" height="27" fill="#00ff00"/>
<rect x="324" y="681" width="3" height="15" fill="#00ff00"/>
<rect x="340" y="681" width="3" height="3" fill="#00ff00"/>
<rect x="356" y="666" width="3" height="15" fill="#00ff00"/>
<rect x="372" y="659" width="3" height="22" fill="#00ff00"/>
<rect x="388" y="658" width="3" height="23" fill="#00ff00"/>
<rect x="404" y="661" width="3" height="20" fill="#00ff00"/>
<rect x="420" y="664" width="3" height="17" fill="#00ff00"/>
<rect x="436" y="664" width="3" height="17" fill="#00ff00"/>
<rect x="452" y="664" width="3" height="17" fill="#00ff00"/>
<rect x="468" y="662" width="3" height="19" fill="#00ff00"/>
<rect x="484" y="656" width="3" height="25" fill="#00ff00"/>
<rect x="500" y="649" width="3" height="32" fill="#00ff00"/>
<rect x="516" y="643" width="3" height="38" fill="#00ff00"/>
<rect x="532" y="635" width="3" height="46" fill="#00ff00"/>
<rect x="548" y="633" width="3" height="48" fill="#00ff00"/>
<rect x="564" y="631" width="3" height="50" fill="#00ff00"/>
<rect x="580" y="631" width="3" height="50" fill="#00ff00"/>
<rect x="596" y="634" width="3" height="47" fill="#00ff00"/>
<rect x="612" y="632" width="3" height="49" fill="#00ff00"/>
<rect x="628" y="630" width="3" height="51" fill="#00ff00"/>
<rect x="644" y="627" width="3" height="54" fill="#00ff00"/>
<rect x="660" y="629" width="3" height="52" fill="#00ff00"/>
<rect x="676" y="634" width="3" height="47" fill="#00ff00"/>
<rect x="692" y="641" width="3" height="40" fill="#00ff00"/>
<rect x="708" y="645" width="3" height="36" fill="#00ff00"/>
<rect x="724" y="651" width="3" height="30" fill="#00ff00"/>
<rect x="740" y="658" width="3" height="23" fill="#00ff00"/>
<rect x="756" y="658" width="3" height="23" fill="#00ff00"/>
<rect x="772" y="654" width="3" height="27" fill="#00ff00"/>
<rect x="788" y="658" width="3" height="23" fill="#00ff00"/>
<rect x="804" y="661" width="3" height="20" fill="#00ff00"/>
<rect x="820" y="666" width="3" height="15" fill="#00ff00"/>
<rect x="836" y="670" width="3" height="11" fill="#00ff00"/>
<rect x="852" y="675" width="3" height="6" fill="#00ff00"/>
<rect x="868" y="678" width="3" height="3" fill="#00ff00"/>
<rect x="884" y="677" width="3" height="4" fill="#00ff00"/>
<rect x="900" y="674" width="3" height="7" fill="#00ff00"/>
<rect x="916" y="668" width="3" height="13" fill="#00ff00"/>
<rect x="932" y="668" width="3" height="13" fill="#00ff00"/>
<rect x="948" y="669" width="3" height="12" fill="#00ff00"/>
<rect x="964" y="671" width="3" height="10" fill="#00ff00"/>
<rect x="980" y="669" width="3" height="12" fill="#00ff00"/>
<rect x="996" y="668" width="3" height="13" fill="#00ff00"/>
<rect x="1012" y="666" width="3" height="15" fill="#00ff00"/>
<rect x="1028" y="661" width="3" height="20" fill="#00ff00"/>
<rect x="1044" y="660" width="3" height="21" fill="#00ff00"/>
<rect x="1060" y="653" width="3" height="28" fill="#00ff00"/>
<rect x="1076" y="645" width="3" height="36" fill="#00ff00"/>
<rect x="1092" y="640" width="3" height="41" fill="#00ff00"/>
<rect x="1108" y="639" width="3" height="42" fill="#00ff00"/>
<rect x="1124" y="636" width="3" height="45" fill="#00ff00"/>
<rect x="1140" y="635" width="3" height="46" fill="#00ff00"/>
<rect x="1156" y="632" width="3" height="49" fill="#00ff00"/>
<rect x="1172" y="634" width="3" height="47" fill="#00ff00"/>
<rect x="1188" y="637" width="3" height="44" fill="#00ff00"/>
<rect x="1204" y="640" width="3" height="41" fill="#00ff00"/>
<rect x="1220" y="644" width="3" height="37" fill="#00ff00"/>
<rect x="1236" y="651" width="3" height="30" fill="#00ff00"/>
<rect x="1252" y="654" width="3" height="27" fill="#00ff00"/>
<rect x="1268" y="663" width="3" height="18" fill="#00ff00"/>
<rect x="1284" y="673" width="3" height="8" fill="#00ff00"/>
<rect x="1300" y="681" width="3" height="2" fill="#00ff00"/>
<rect x="1316" y="681" width="3" height="3" fill="#00ff00"/>
<rect x="1332" y="681" width="3" height="5" fill="#00ff00"/>
<rect x="1348" y="681" width="3" height="2" fill="#00ff00"/>
<rect x="1364" y="675" width="3" height="6" fill="#00ff00"/>
<rect x="1380" y="669" width="3" height="12" fill="#00ff00"/>
</g>
<polyline points="5.6,662.8 21.6,670.5 37.9,677.7 53.6,684.0 70.2,690.1 85.6,694.6 100.1,698.8 117.6,703.5 134.9,708.0 149.6,711.5 164.6,714.5 181.6,717.3 197.1,719.5 213.6,721.3 229.4,722.5 245.6,723.0 261.6,723.0 277.6,723.0 294.1,722.5 309.6,720.5 323.9,717.5 340.6,712.8 356.2,707.5 372.6,700.3 388.6,692.6 400.6,687.6 421.6,679.0 437.9,673.2 454.1,667.7 470.2,665.3 486.4,660.8 502.6,659.0 517.6,658.5 533.6,655.3 549.8,652.3 566.0,648.3 582.1,645.9 598.3,641.6 614.5,638.6 629.4,635.4 645.6,633.4 661.6,631.4 669.2,630.4 677.9,630.9 694.1,632.2 710.2,634.2 726.4,636.4 741.3,639.1 757.5,642.1 773.6,643.9 789.8,648.3 806.0,651.6 821.6,655.8 837.9,659.0 854.1,662.3 870.2,664.8 886.4,666.7 902.6,668.7 917.6,670.5 933.6,671.7 949.8,672.0 966.0,672.0 982.1,672.0 998.3,671.5 1014.5,670.7 1029.4,669.0 1045.6,667.7 1061.6,665.3 1077.9,662.3 1094.1,659.3 1110.2,655.8 1126.4,651.6 1141.3,648.3 1157.5,645.4 1173.6,642.1 1189.6,639.1 1205.6,638.6 1215.4,637.4 1221.6,637.9 1237.6,639.6 1253.6,640.4 1269.6,643.4 1285.6,648.3 1301.6,653.6 1317.6,659.8 1333.6,664.5 1349.6,668.5 1365.6,672.7 1381.6,674.2" fill="none" stroke="#ff0000" stroke-width="2" stroke-linejoin="round" shape-rendering="crispEdges"/>
<text class="t" x="9.5" y="633.5" textLength="117.5" lengthAdjust="spacing">MACD(12,26,9) 35.38 20.55</text>
<g class="c">
<rect x="1642" y="623" width="2" height="1" fill="#000"/>
<rect x="1642" y="681" width="2" height="1" fill="#000"/>
<rect x="1642" y="730" width="2" height="1" fill="#000"/>
</g>
<text class="t" x="1645.5" y="631.5" textLength="28" lengthAdjust="spacingAndGlyphs">166.55</text>
<text class="t" x="1645.5" y="684.5" textLength="17" lengthAdjust="spacingAndGlyphs">0.00</text>
<text class="t" x="1644.8" y="727.5" textLength="31" lengthAdjust="spacingAndGlyphs">-139.84</text>
<g class="c">
<rect x="7" y="755" width="3" height="1" fill="#000"/>
<rect x="13" y="755" width="3" height="1" fill="#000"/>
<rect x="19" y="755" width="3" height="1" fill="#000"/>
<rect x="25" y="755" width="3" height="1" fill="#000"/>
<rect x="31" y="755" width="3" height="1" fill="#000"/>
<rect x="37" y="755" width="3" height="1" fill="#000"/>
<rect x="43" y="755" width="3" height="1" fill="#000"/>
<rect x="49" y="755" width="3" height="1" fill="#000"/>
<rect x="55" y="755" width="3" height="1" fill="#000"/>
<rect x="61" y="755" width="3" height="1" fill="#000"/>
<rect x="67" y="755" width="3" height="1" fill="#000"/>
<rect x="73" y="755" width="3" height="1" fill="#000"/>
<rect x="79" y="755" width="3" height="1" fill="#000"/>
<rect x="85" y="755" width="3" height="1" fill="#000"/>
<rect x="91" y="755" width="3" height="1" fill="#000"/>
<rect x="97" y="755" width="3" height="1" fill="#000"/>
<rect x="103" y="755" width="3" height="1" fill="#000"/>
<rect x="109" y="755" width="3" height="1" fill="#000"/>
<rect x="115" y="755" width="3" height="1" fill="#000"/>
<rect x="121" y="755" width="3" height="1" fill="#000"/>
<rect x="127" y="755" width="3" height="1" fill="#000"/>
<rect x="133" y="755" width="3" height="1" fill="#000"/>
<rect x="139" y="755" width="3" height="1" fill="#000"/>
<rect x="145" y="755" width="3" height="1" fill="#000"/>
<rect x="151" y="755" width="3" height="1" fill="#000"/>
<rect x="157" y="755" width="3" height="1" fill="#000"/>
<rect x="163" y="755" width="3" height="1" fill="#000"/>
<rect x="169" y="755" width="3" height="1" fill="#000"/>
<rect x="175" y="755" width="3" height="1" fill="#000"/>
<rect x="181" y="755" width="3" height="1" fill="#000"/>
<rect x="187" y="755" width="3" height="1" fill="#000"/>
<rect x="193" y="755" width="3" height="1" fill="#000"/>
<rect x="199" y="755" width="3" height="1" fill="#000"/>
<rect x="205" y="755" width="3" height="1" fill="#000"/>
<rect x="211" y="755" width="3" height="1" fill="#000"/>
<rect x="217" y="755" width="3" height="1" fill="#000"/>
<rect x="223" y="755" width="3" height="1" fill="#000"/>
<rect x="229" y="755" width="3" height="1" fill="#000"/>
<rect x="235" y="755" width="3" height="1" fill="#000"/>
<rect x="241" y="755" width="3" height="1" fill="#000"/>
<rect x="247" y="755" width="3" height="1" fill="#000"/>
<rect x="253" y="755" width="3" height="1" fill="#000"/>
<rect x="259" y="755" width="3" height="1" fill="#000"/>
<rect x="265" y="755" width="3" height="1" fill="#000"/>
<rect x="271" y="755" width="3" height="1" fill="#000"/>
<rect x="277" y="755" width="3" height="1" fill="#000"/>
<rect x="283" y="755" width="3" height="1" fill="#000"/>
<rect x="289" y="755" width="3" height="1" fill="#000"/>
<rect x="295" y="755" width="3" height="1" fill="#000"/>
<rect x="301" y="755" width="3" height="1" fill="#000"/>
<rect x="307" y="755" width="3" height="1" fill="#000"/>
<rect x="313" y="755" width="3" height="1" fill="#000"/>
<rect x="319" y="755" width="3" height="1" fill="#000"/>
<rect x="325" y="755" width="3" height="1" fill="#000"/>
<rect x="331" y="755" width="3" height="1" fill="#000"/>
<rect x="337" y="755" width="3" height="1" fill="#000"/>
<rect x="343" y="755" width="3" height="1" fill="#000"/>
<rect x="349" y="755" width="3" height="1" fill="#000"/>
<rect x="355" y="755" width="3" height="1" fill="#000"/>
<rect x="361" y="755" width="3" height="1" fill="#000"/>
<rect x="367" y="755" width="3" height="1" fill="#000"/>
<rect x="373" y="755" width="3" height="1" fill="#000"/>
<rect x="379" y="755" width="3" height="1" fill="#000"/>
<rect x="385" y="755" width="3" height="1" fill="#000"/>
<rect x="391" y="755" width="3" height="1" fill="#000"/>
<rect x="397" y="755" width="3" height="1" fill="#000"/>
<rect x="403" y="755" width="3" height="1" fill="#000"/>
<rect x="409" y="755" width="3" height="1" fill="#000"/>
<rect x="415" y="755" width="3" height="1" fill="#000"/>
<rect x="421" y="755" width="3" height="1" fill="#000"/>
<rect x="427" y="755" width="3" height="1" fill="#000"/>
<rect x="433" y="755" width="3" height="1" fill="#000"/>
<rect x="439" y="755" width="3" height="1" fill="#000"/>
<rect x="445" y="755" width="3" height="1" fill="#000"/>
<rect x="451" y="755" width="3" height="1" fill="#000"/>
<rect x="457" y="755" width="3" height="1" fill="#000"/>
<rect x="463" y="755" width="3" height="1" fill="#000"/>
<rect x="469" y="755" width="3" height="1" fill="#000"/>
<rect x="475" y="755" width="3" height="1" fill="#000"/>
<rect x="481" y="755" width="3" height="1" fill="#000"/>
<rect x="487" y="755" width="3" height="1" fill="#000"/>
<rect x="493" y="755" width="3" height="1" fill="#000"/>
<rect x="499" y="755" width="3" height="1" fill="#000"/>
<rect x="505" y="755" width="3" height="1" fill="#000"/>
<rect x="511" y="755" width="3" height="1" fill="#000"/>
<rect x="517" y="755" width="3" height="1" fill="#000"/>
<rect x="523" y="755" width="3" height="1" fill="#000"/>
<rect x="529" y="755" width="3" height="1" fill="#000"/>
<rect x="535" y="755" width="3" height="1" fill="#000"/>
<rect x="541" y="755" width="3" height="1" fill="#000"/>
<rect x="547" y="755" width="3" height="1" fill="#000"/>
<rect x="553" y="755" width="3" height="1" fill="#000"/>
<rect x="559" y="755" width="3" height="1" fill="#000"/>
<rect x="565" y="755" width="3" height="1" fill="#000"/>
<rect x="571" y="755" width="3" height="1" fill="#000"/>
<rect x="577" y="755" width="3" height="1" fill="#000"/>
<rect x="583" y="755" width="3" height="1" fill="#000"/>
<rect x="589" y="755" width="3" height="1" fill="#000"/>
<rect x="595" y="755" width="3" height="1" fill="#000"/>
<rect x="601" y="755" width="3" height="1" fill="#000"/>
<rect x="607" y="755" width="3" height="1" fill="#000"/>
<rect x="613" y="755" width="3" height="1" fill="#000"/>
<rect x="619" y="755" width="3" height="1" fill="#000"/>
<rect x="625" y="755" width="3" height="1" fill="#000"/>
<rect x="631" y="755" width="3" height="1" fill="#000"/>
<rect x="637" y="755" width="3" height="1" fill="#000"/>
<rect x="643" y="755" width="3" height="1" fill="#000"/>
<rect x="649" y="755" width="3" height="1" fill="#000"/>
<rect x="655" y="755" width="3" height="1" fill="#000"/>
<rect x="661" y="755" width="3" height="1" fill="#000"/>
<rect x="667" y="755" width="3" height="1" fill="#000"/>
<rect x="673" y="755" width="3" height="1" fill="#000"/>
<rect x="679" y="755" width="3" height="1" fill="#000"/>
<rect x="685" y="755" width="3" height="1" fill="#000"/>
<rect x="691" y="755" width="3" height="1" fill="#000"/>
<rect x="697" y="755" width="3" height="1" fill="#000"/>
<rect x="703" y="755" width="3" height="1" fill="#000"/>
<rect x="709" y="755" width="3" height="1" fill="#000"/>
<rect x="715" y="755" width="3" height="1" fill="#000"/>
<rect x="721" y="755" width="3" height="1" fill="#000"/>
<rect x="727" y="755" width="3" height="1" fill="#000"/>
<rect x="733" y="755" width="3" height="1" fill="#000"/>
<rect x="739" y="755" width="3" height="1" fill="#000"/>
<rect x="745" y="755" width="3" height="1" fill="#000"/>
<rect x="751" y="755" width="3" height="1" fill="#000"/>
<rect x="757" y="755" width="3" height="1" fill="#000"/>
<rect x="763" y="755" width="3" height="1" fill="#000"/>
<rect x="769" y="755" width="3" height="1" fill="#000"/>
<rect x="775" y="755" width="3" height="1" fill="#000"/>
<rect x="781" y="755" width="3" height="1" fill="#000"/>
<rect x="787" y="755" width="3" height="1" fill="#000"/>
<rect x="793" y="755" width="3" height="1" fill="#000"/>
<rect x="799" y="755" width="3" height="1" fill="#000"/>
<rect x="805" y="755" width="3" height="1" fill="#000"/>
<rect x="811" y="755" width="3" height="1" fill="#000"/>
<rect x="817" y="755" width="3" height="1" fill="#000"/>
<rect x="823" y="755" width="3" height="1" fill="#000"/>
<rect x="829" y="755" width="3" height="1" fill="#000"/>
<rect x="835" y="755" width="3" height="1" fill="#000"/>
<rect x="841" y="755" width="3" height="1" fill="#000"/>
<rect x="847" y="755" width="3" height="1" fill="#000"/>
<rect x="853" y="755" width="3" height="1" fill="#000"/>
<rect x="859" y="755" width="3" height="1" fill="#000"/>
<rect x="865" y="755" width="3" height="1" fill="#000"/>
<rect x="871" y="755" width="3" height="1" fill="#000"/>
<rect x="877" y="755" width="3" height="1" fill="#000"/>
<rect x="883" y="755" width="3" height="1" fill="#000"/>
<rect x="889" y="755" width="3" height="1" fill="#000"/>
<rect x="895" y="755" width="3" height="1" fill="#000"/>
<rect x="901" y="755" width="3" height="1" fill="#000"/>
<rect x="907" y="755" width="3" height="1" fill="#000"/>
<rect x="913" y="755" width="3" height="1" fill="#000"/>
<rect x="919" y="755" width="3" height="1" fill="#000"/>
<rect x="925" y="755" width="3" height="1" fill="#000"/>
<rect x="931" y="755" width="3" height="1" fill="#000"/>
<rect x="937" y="755" width="3" height="1" fill="#000"/>
<rect x="943" y="755" width="3" height="1" fill="#000"/>
<rect x="949" y="755" width="3" height="1" fill="#000"/>
<rect x="955" y="755" width="3" height="1" fill="#000"/>
<rect x="961" y="755" width="3" height="1" fill="#000"/>
<rect x="967" y="755" width="3" height="1" fill="#000"/>
<rect x="973" y="755" width="3" height="1" fill="#000"/>
<rect x="979" y="755" width="3" height="1" fill="#000"/>
<rect x="985" y="755" width="3" height="1" fill="#000"/>
<rect x="991" y="755" width="3" height="1" fill="#000"/>
<rect x="997" y="755" width="3" height="1" fill="#000"/>
<rect x="1003" y="755" width="3" height="1" fill="#000"/>
<rect x="1009" y="755" width="3" height="1" fill="#000"/>
<rect x="1015" y="755" width="3" height="1" fill="#000"/>
<rect x="1021" y="755" width="3" height="1" fill="#000"/>
<rect x="1027" y="755" width="3" height="1" fill="#000"/>
<rect x="1033" y="755" width="3" height="1" fill="#000"/>
<rect x="1039" y="755" width="3" height="1" fill="#000"/>
<rect x="1045" y="755" width="3" height="1" fill="#000"/>
<rect x="1051" y="755" width="3" height="1" fill="#000"/>
<rect x="1057" y="755" width="3" height="1" fill="#000"/>
<rect x="1063" y="755" width="3" height="1" fill="#000"/>
<rect x="1069" y="755" width="3" height="1" fill="#000"/>
<rect x="1075" y="755" width="3" height="1" fill="#000"/>
<rect x="1081" y="755" width="3" height="1" fill="#000"/>
<rect x="1087" y="755" width="3" height="1" fill="#000"/>
<rect x="1093" y="755" width="3" height="1" fill="#000"/>
<rect x="1099" y="755" width="3" height="1" fill="#000"/>
<rect x="1105" y="755" width="3" height="1" fill="#000"/>
<rect x="1111" y="755" width="3" height="1" fill="#000"/>
<rect x="1117" y="755" width="3" height="1" fill="#000"/>
<rect x="1123" y="755" width="3" height="1" fill="#000"/>
<rect x="1129" y="755" width="3" height="1" fill="#000"/>
<rect x="1135" y="755" width="3" height="1" fill="#000"/>
<rect x="1141" y="755" width="3" height="1" fill="#000"/>
<rect x="1147" y="755" width="3" height="1" fill="#000"/>
<rect x="1153" y="755" width="3" height="1" fill="#000"/>
<rect x="1159" y="755" width="3" height="1" fill="#000"/>
<rect x="1165" y="755" width="3" height="1" fill="#000"/>
<rect x="1171" y="755" width="3" height="1" fill="#000"/>
<rect x="1177" y="755" width="3" height="1" fill="#000"/>
<rect x="1183" y="755" width="3" height="1" fill="#000"/>
<rect x="1189" y="755" width="3" height="1" fill="#000"/>
<rect x="1195" y="755" width="3" height="1" fill="#000"/>
<rect x="1201" y="755" width="3" height="1" fill="#000"/>
<rect x="1207" y="755" width="3" height="1" fill="#000"/>
<rect x="1213" y="755" width="3" height="1" fill="#000"/>
<rect x="1219" y="755" width="3" height="1" fill="#000"/>
<rect x="1225" y="755" width="3" height="1" fill="#000"/>
<rect x="1231" y="755" width="3" height="1" fill="#000"/>
<rect x="1237" y="755" width="3" height="1" fill="#000"/>
<rect x="1243" y="755" width="3" height="1" fill="#000"/>
<rect x="1249" y="755" width="3" height="1" fill="#000"/>
<rect x="1255" y="755" width="3" height="1" fill="#000"/>
<rect x="1261" y="755" width="3" height="1" fill="#000"/>
<rect x="1267" y="755" width="3" height="1" fill="#000"/>
<rect x="1273" y="755" width="3" height="1" fill="#000"/>
<rect x="1279" y="755" width="3" height="1" fill="#000"/>
<rect x="1285" y="755" width="3" height="1" fill="#000"/>
<rect x="1291" y="755" width="3" height="1" fill="#000"/>
<rect x="1297" y="755" width="3" height="1" fill="#000"/>
<rect x="1303" y="755" width="3" height="1" fill="#000"/>
<rect x="1309" y="755" width="3" height="1" fill="#000"/>
<rect x="1315" y="755" width="3" height="1" fill="#000"/>
<rect x="1321" y="755" width="3" height="1" fill="#000"/>
<rect x="1327" y="755" width="3" height="1" fill="#000"/>
<rect x="1333" y="755" width="3" height="1" fill="#000"/>
<rect x="1339" y="755" width="3" height="1" fill="#000"/>
<rect x="1345" y="755" width="3" height="1" fill="#000"/>
<rect x="1351" y="755" width="3" height="1" fill="#000"/>
<rect x="1357" y="755" width="3" height="1" fill="#000"/>
<rect x="1363" y="755" width="3" height="1" fill="#000"/>
<rect x="1369" y="755" width="3" height="1" fill="#000"/>
<rect x="1375" y="755" width="3" height="1" fill="#000"/>
<rect x="1381" y="755" width="3" height="1" fill="#000"/>
<rect x="1387" y="755" width="3" height="1" fill="#000"/>
<rect x="1393" y="755" width="3" height="1" fill="#000"/>
<rect x="1399" y="755" width="3" height="1" fill="#000"/>
<rect x="1405" y="755" width="3" height="1" fill="#000"/>
<rect x="1411" y="755" width="3" height="1" fill="#000"/>
<rect x="1417" y="755" width="3" height="1" fill="#000"/>
<rect x="1423" y="755" width="3" height="1" fill="#000"/>
<rect x="1429" y="755" width="3" height="1" fill="#000"/>
<rect x="1435" y="755" width="3" height="1" fill="#000"/>
<rect x="1441" y="755" width="3" height="1" fill="#000"/>
<rect x="1447" y="755" width="3" height="1" fill="#000"/>
<rect x="1453" y="755" width="3" height="1" fill="#000"/>
<rect x="1459" y="755" width="3" height="1" fill="#000"/>
<rect x="1465" y="755" width="3" height="1" fill="#000"/>
<rect x="1471" y="755" width="3" height="1" fill="#000"/>
<rect x="1477" y="755" width="3" height="1" fill="#000"/>
<rect x="1483" y="755" width="3" height="1" fill="#000"/>
<rect x="1489" y="755" width="3" height="1" fill="#000"/>
<rect x="1495" y="755" width="3" height="1" fill="#000"/>
<rect x="1501" y="755" width="3" height="1" fill="#000"/>
<rect x="1507" y="755" width="3" height="1" fill="#000"/>
<rect x="1513" y="755" width="3" height="1" fill="#000"/>
<rect x="1519" y="755" width="3" height="1" fill="#000"/>
<rect x="1525" y="755" width="3" height="1" fill="#000"/>
<rect x="1531" y="755" width="3" height="1" fill="#000"/>
<rect x="1537" y="755" width="3" height="1" fill="#000"/>
<rect x="1543" y="755" width="3" height="1" fill="#000"/>
<rect x="1549" y="755" width="3" height="1" fill="#000"/>
<rect x="1555" y="755" width="3" height="1" fill="#000"/>
<rect x="1561" y="755" width="3" height="1" fill="#000"/>
<rect x="1567" y="755" width="3" height="1" fill="#000"/>
<rect x="1573" y="755" width="3" height="1" fill="#000"/>
<rect x="1579" y="755" width="3" height="1" fill="#000"/>
<rect x="1585" y="755" width="3" height="1" fill="#000"/>
<rect x="1591" y="755" width="3" height="1" fill="#000"/>
<rect x="1597" y="755" width="3" height="1" fill="#000"/>
<rect x="1603" y="755" width="3" height="1" fill="#000"/>
<rect x="1609" y="755" width="3" height="1" fill="#000"/>
<rect x="1615" y="755" width="3" height="1" fill="#000"/>
<rect x="1621" y="755" width="3" height="1" fill="#000"/>
<rect x="1627" y="755" width="3" height="1" fill="#000"/>
<rect x="1633" y="755" width="3" height="1" fill="#000"/>
<rect x="1639" y="755" width="2" height="1" fill="#000"/>
<rect x="7" y="786" width="3" height="1" fill="#000"/>
<rect x="13" y="786" width="3" height="1" fill="#000"/>
<rect x="19" y="786" width="3" height="1" fill="#000"/>
<rect x="25" y="786" width="3" height="1" fill="#000"/>
<rect x="31" y="786" width="3" height="1" fill="#000"/>
<rect x="37" y="786" width="3" height="1" fill="#000"/>
<rect x="43" y="786" width="3" height="1" fill="#000"/>
<rect x="49" y="786" width="3" height="1" fill="#000"/>
<rect x="55" y="786" width="3" height="1" fill="#000"/>
<rect x="61" y="786" width="3" height="1" fill="#000"/>
<rect x="67" y="786" width="3" height="1" fill="#000"/>
<rect x="73" y="786" width="3" height="1" fill="#000"/>
<rect x="79" y="786" width="3" height="1" fill="#000"/>
<rect x="85" y="786" width="3" height="1" fill="#000"/>
<rect x="91" y="786" width="3" height="1" fill="#000"/>
<rect x="97" y="786" width="3" height="1" fill="#000"/>
<rect x="103" y="786" width="3" height="1" fill="#000"/>
<rect x="109" y="786" width="3" height="1" fill="#000"/>
<rect x="115" y="786" width="3" height="1" fill="#000"/>
<rect x="121" y="786" width="3" height="1" fill="#000"/>
<rect x="127" y="786" width="3" height="1" fill="#000"/>
<rect x="133" y="786" width="3" height="1" fill="#000"/>
<rect x="139" y="786" width="3" height="1" fill="#000"/>
<rect x="145" y="786" width="3" height="1" fill="#000"/>
<rect x="151" y="786" width="3" height="1" fill="#000"/>
<rect x="157" y="786" width="3" height="1" fill="#000"/>
<rect x="163" y="786" width="3" height="1" fill="#000"/>
<rect x="169" y="786" width="3" height="1" fill="#000"/>
<rect x="175" y="786" width="3" height="1" fill="#000"/>
<rect x="181" y="786" width="3" height="1" fill="#000"/>
<rect x="187" y="786" width="3" height="1" fill="#000"/>
<rect x="193" y="786" width="3" height="1" fill="#000"/>
<rect x="199" y="786" width="3" height="1" fill="#000"/>
<rect x="205" y="786" width="3" height="1" fill="#000"/>
<rect x="211" y="786" width="3" height="1" fill="#000"/>
<rect x="217" y="786" width="3" height="1" fill="#000"/>
<rect x="223" y="786" width="3" height="1" fill="#000"/>
<rect x="229" y="786" width="3" height="1" fill="#000"/>
<rect x="235" y="786" width="3" height="1" fill="#000"/>
<rect x="241" y="786" width="3" height="1" fill="#000"/>
<rect x="247" y="786" width="3" height="1" fill="#000"/>
<rect x="253" y="786" width="3" height="1" fill="#000"/>
<rect x="259" y="786" width="3" height="1" fill="#000"/>
<rect x="265" y="786" width="3" height="1" fill="#000"/>
<rect x="271" y="786" width="3" height="1" fill="#000"/>
<rect x="277" y="786" width="3" height="1" fill="#000"/>
<rect x="283" y="786" width="3" height="1" fill="#000"/>
<rect x="289" y="786" width="3" height="1" fill="#000"/>
<rect x="295" y="786" width="3" height="1" fill="#000"/>
<rect x="301" y="786" width="3" height="1" fill="#000"/>
<rect x="307" y="786" width="3" height="1" fill="#000"/>
<rect x="313" y="786" width="3" height="1" fill="#000"/>
<rect x="319" y="786" width="3" height="1" fill="#000"/>
<rect x="325" y="786" width="3" height="1" fill="#000"/>
<rect x="331" y="786" width="3" height="1" fill="#000"/>
<rect x="337" y="786" width="3" height="1" fill="#000"/>
<rect x="343" y="786" width="3" height="1" fill="#000"/>
<rect x="349" y="786" width="3" height="1" fill="#000"/>
<rect x="355" y="786" width="3" height="1" fill="#000"/>
<rect x="361" y="786" width="3" height="1" fill="#000"/>
<rect x="367" y="786" width="3" height="1" fill="#000"/>
<rect x="373" y="786" width="3" height="1" fill="#000"/>
<rect x="379" y="786" width="3" height="1" fill="#000"/>
<rect x="385" y="786" width="3" height="1" fill="#000"/>
<rect x="391" y="786" width="3" height="1" fill="#000"/>
<rect x="397" y="786" width="3" height="1" fill="#000"/>
<rect x="403" y="786" width="3" height="1" fill="#000"/>
<rect x="409" y="786" width="3" height="1" fill="#000"/>
<rect x="415" y="786" width="3" height="1" fill="#000"/>
<rect x="421" y="786" width="3" height="1" fill="#000"/>
<rect x="427" y="786" width="3" height="1" fill="#000"/>
<rect x="433" y="786" width="3" height="1" fill="#000"/>
<rect x="439" y="786" width="3" height="1" fill="#000"/>
<rect x="445" y="786" width="3" height="1" fill="#000"/>
<rect x="451" y="786" width="3" height="1" fill="#000"/>
<rect x="457" y="786" width="3" height="1" fill="#000"/>
<rect x="463" y="786" width="3" height="1" fill="#000"/>
<rect x="469" y="786" width="3" height="1" fill="#000"/>
<rect x="475" y="786" width="3" height="1" fill="#000"/>
<rect x="481" y="786" width="3" height="1" fill="#000"/>
<rect x="487" y="786" width="3" height="1" fill="#000"/>
<rect x="493" y="786" width="3" height="1" fill="#000"/>
<rect x="499" y="786" width="3" height="1" fill="#000"/>
<rect x="505" y="786" width="3" height="1" fill="#000"/>
<rect x="511" y="786" width="3" height="1" fill="#000"/>
<rect x="517" y="786" width="3" height="1" fill="#000"/>
<rect x="523" y="786" width="3" height="1" fill="#000"/>
<rect x="529" y="786" width="3" height="1" fill="#000"/>
<rect x="535" y="786" width="3" height="1" fill="#000"/>
<rect x="541" y="786" width="3" height="1" fill="#000"/>
<rect x="547" y="786" width="3" height="1" fill="#000"/>
<rect x="553" y="786" width="3" height="1" fill="#000"/>
<rect x="559" y="786" width="3" height="1" fill="#000"/>
<rect x="565" y="786" width="3" height="1" fill="#000"/>
<rect x="571" y="786" width="3" height="1" fill="#000"/>
<rect x="577" y="786" width="3" height="1" fill="#000"/>
<rect x="583" y="786" width="3" height="1" fill="#000"/>
<rect x="589" y="786" width="3" height="1" fill="#000"/>
<rect x="595" y="786" width="3" height="1" fill="#000"/>
<rect x="601" y="786" width="3" height="1" fill="#000"/>
<rect x="607" y="786" width="3" height="1" fill="#000"/>
<rect x="613" y="786" width="3" height="1" fill="#000"/>
<rect x="619" y="786" width="3" height="1" fill="#000"/>
<rect x="625" y="786" width="3" height="1" fill="#000"/>
<rect x="631" y="786" width="3" height="1" fill="#000"/>
<rect x="637" y="786" width="3" height="1" fill="#000"/>
<rect x="643" y="786" width="3" height="1" fill="#000"/>
<rect x="649" y="786" width="3" height="1" fill="#000"/>
<rect x="655" y="786" width="3" height="1" fill="#000"/>
<rect x="661" y="786" width="3" height="1" fill="#000"/>
<rect x="667" y="786" width="3" height="1" fill="#000"/>
<rect x="673" y="786" width="3" height="1" fill="#000"/>
<rect x="679" y="786" width="3" height="1" fill="#000"/>
<rect x="685" y="786" width="3" height="1" fill="#000"/>
<rect x="691" y="786" width="3" height="1" fill="#000"/>
<rect x="697" y="786" width="3" height="1" fill="#000"/>
<rect x="703" y="786" width="3" height="1" fill="#000"/>
<rect x="709" y="786" width="3" height="1" fill="#000"/>
<rect x="715" y="786" width="3" height="1" fill="#000"/>
<rect x="721" y="786" width="3" height="1" fill="#000"/>
<rect x="727" y="786" width="3" height="1" fill="#000"/>
<rect x="733" y="786" width="3" height="1" fill="#000"/>
<rect x="739" y="786" width="3" height="1" fill="#000"/>
<rect x="745" y="786" width="3" height="1" fill="#000"/>
<rect x="751" y="786" width="3" height="1" fill="#000"/>
<rect x="757" y="786" width="3" height="1" fill="#000"/>
<rect x="763" y="786" width="3" height="1" fill="#000"/>
<rect x="769" y="786" width="3" height="1" fill="#000"/>
<rect x="775" y="786" width="3" height="1" fill="#000"/>
<rect x="781" y="786" width="3" height="1" fill="#000"/>
<rect x="787" y="786" width="3" height="1" fill="#000"/>
<rect x="793" y="786" width="3" height="1" fill="#000"/>
<rect x="799" y="786" width="3" height="1" fill="#000"/>
<rect x="805" y="786" width="3" height="1" fill="#000"/>
<rect x="811" y="786" width="3" height="1" fill="#000"/>
<rect x="817" y="786" width="3" height="1" fill="#000"/>
<rect x="823" y="786" width="3" height="1" fill="#000"/>
<rect x="829" y="786" width="3" height="1" fill="#000"/>
<rect x="835" y="786" width="3" height="1" fill="#000"/>
<rect x="841" y="786" width="3" height="1" fill="#000"/>
<rect x="847" y="786" width="3" height="1" fill="#000"/>
<rect x="853" y="786" width="3" height="1" fill="#000"/>
<rect x="859" y="786" width="3" height="1" fill="#000"/>
<rect x="865" y="786" width="3" height="1" fill="#000"/>
<rect x="871" y="786" width="3" height="1" fill="#000"/>
<rect x="877" y="786" width="3" height="1" fill="#000"/>
<rect x="883" y="786" width="3" height="1" fill="#000"/>
<rect x="889" y="786" width="3" height="1" fill="#000"/>
<rect x="895" y="786" width="3" height="1" fill="#000"/>
<rect x="901" y="786" width="3" height="1" fill="#000"/>
<rect x="907" y="786" width="3" height="1" fill="#000"/>
<rect x="913" y="786" width="3" height="1" fill="#000"/>
<rect x="919" y="786" width="3" height="1" fill="#000"/>
<rect x="925" y="786" width="3" height="1" fill="#000"/>
<rect x="931" y="786" width="3" height="1" fill="#000"/>
<rect x="937" y="786" width="3" height="1" fill="#000"/>
<rect x="943" y="786" width="3" height="1" fill="#000"/>
<rect x="949" y="786" width="3" height="1" fill="#000"/>
<rect x="955" y="786" width="3" height="1" fill="#000"/>
<rect x="961" y="786" width="3" height="1" fill="#000"/>
<rect x="967" y="786" width="3" height="1" fill="#000"/>
<rect x="973" y="786" width="3" height="1" fill="#000"/>
<rect x="979" y="786" width="3" height="1" fill="#000"/>
<rect x="985" y="786" width="3" height="1" fill="#000"/>
<rect x="991" y="786" width="3" height="1" fill="#000"/>
<rect x="997" y="786" width="3" height="1" fill="#000"/>
<rect x="1003" y="786" width="3" height="1" fill="#000"/>
<rect x="1009" y="786" width="3" height="1" fill="#000"/>
<rect x="1015" y="786" width="3" height="1" fill="#000"/>
<rect x="1021" y="786" width="3" height="1" fill="#000"/>
<rect x="1027" y="786" width="3" height="1" fill="#000"/>
<rect x="1033" y="786" width="3" height="1" fill="#000"/>
<rect x="1039" y="786" width="3" height="1" fill="#000"/>
<rect x="1045" y="786" width="3" height="1" fill="#000"/>
<rect x="1051" y="786" width="3" height="1" fill="#000"/>
<rect x="1057" y="786" width="3" height="1" fill="#000"/>
<rect x="1063" y="786" width="3" height="1" fill="#000"/>
<rect x="1069" y="786" width="3" height="1" fill="#000"/>
<rect x="1075" y="786" width="3" height="1" fill="#000"/>
<rect x="1081" y="786" width="3" height="1" fill="#000"/>
<rect x="1087" y="786" width="3" height="1" fill="#000"/>
<rect x="1093" y="786" width="3" height="1" fill="#000"/>
<rect x="1099" y="786" width="3" height="1" fill="#000"/>
<rect x="1105" y="786" width="3" height="1" fill="#000"/>
<rect x="1111" y="786" width="3" height="1" fill="#000"/>
<rect x="1117" y="786" width="3" height="1" fill="#000"/>
<rect x="1123" y="786" width="3" height="1" fill="#000"/>
<rect x="1129" y="786" width="3" height="1" fill="#000"/>
<rect x="1135" y="786" width="3" height="1" fill="#000"/>
<rect x="1141" y="786" width="3" height="1" fill="#000"/>
<rect x="1147" y="786" width="3" height="1" fill="#000"/>
<rect x="1153" y="786" width="3" height="1" fill="#000"/>
<rect x="1159" y="786" width="3" height="1" fill="#000"/>
<rect x="1165" y="786" width="3" height="1" fill="#000"/>
<rect x="1171" y="786" width="3" height="1" fill="#000"/>
<rect x="1177" y="786" width="3" height="1" fill="#000"/>
<rect x="1183" y="786" width="3" height="1" fill="#000"/>
<rect x="1189" y="786" width="3" height="1" fill="#000"/>
<rect x="1195" y="786" width="3" height="1" fill="#000"/>
<rect x="1201" y="786" width="3" height="1" fill="#000"/>
<rect x="1207" y="786" width="3" height="1" fill="#000"/>
<rect x="1213" y="786" width="3" height="1" fill="#000"/>
<rect x="1219" y="786" width="3" height="1" fill="#000"/>
<rect x="1225" y="786" width="3" height="1" fill="#000"/>
<rect x="1231" y="786" width="3" height="1" fill="#000"/>
<rect x="1237" y="786" width="3" height="1" fill="#000"/>
<rect x="1243" y="786" width="3" height="1" fill="#000"/>
<rect x="1249" y="786" width="3" height="1" fill="#000"/>
<rect x="1255" y="786" width="3" height="1" fill="#000"/>
<rect x="1261" y="786" width="3" height="1" fill="#000"/>
<rect x="1267" y="786" width="3" height="1" fill="#000"/>
<rect x="1273" y="786" width="3" height="1" fill="#000"/>
<rect x="1279" y="786" width="3" height="1" fill="#000"/>
<rect x="1285" y="786" width="3" height="1" fill="#000"/>
<rect x="1291" y="786" width="3" height="1" fill="#000"/>
<rect x="1297" y="786" width="3" height="1" fill="#000"/>
<rect x="1303" y="786" width="3" height="1" fill="#000"/>
<rect x="1309" y="786" width="3" height="1" fill="#000"/>
<rect x="1315" y="786" width="3" height="1" fill="#000"/>
<rect x="1321" y="786" width="3" height="1" fill="#000"/>
<rect x="1327" y="786" width="3" height="1" fill="#000"/>
<rect x="1333" y="786" width="3" height="1" fill="#000"/>
<rect x="1339" y="786" width="3" height="1" fill="#000"/>
<rect x="1345" y="786" width="3" height="1" fill="#000"/>
<rect x="1351" y="786" width="3" height="1" fill="#000"/>
<rect x="1357" y="786" width="3" height="1" fill="#000"/>
<rect x="1363" y="786" width="3" height="1" fill="#000"/>
<rect x="1369" y="786" width="3" height="1" fill="#000"/>
<rect x="1375" y="786" width="3" height="1" fill="#000"/>
<rect x="1381" y="786" width="3" height="1" fill="#000"/>
<rect x="1387" y="786" width="3" height="1" fill="#000"/>
<rect x="1393" y="786" width="3" height="1" fill="#000"/>
<rect x="1399" y="786" width="3" height="1" fill="#000"/>
<rect x="1405" y="786" width="3" height="1" fill="#000"/>
<rect x="1411" y="786" width="3" height="1" fill="#000"/>
<rect x="1417" y="786" width="3" height="1" fill="#000"/>
<rect x="1423" y="786" width="3" height="1" fill="#000"/>
<rect x="1429" y="786" width="3" height="1" fill="#000"/>
<rect x="1435" y="786" width="3" height="1" fill="#000"/>
<rect x="1441" y="786" width="3" height="1" fill="#000"/>
<rect x="1447" y="786" width="3" height="1" fill="#000"/>
<rect x="1453" y="786" width="3" height="1" fill="#000"/>
<rect x="1459" y="786" width="3" height="1" fill="#000"/>
<rect x="1465" y="786" width="3" height="1" fill="#000"/>
<rect x="1471" y="786" width="3" height="1" fill="#000"/>
<rect x="1477" y="786" width="3" height="1" fill="#000"/>
<rect x="1483" y="786" width="3" height="1" fill="#000"/>
<rect x="1489" y="786" width="3" height="1" fill="#000"/>
<rect x="1495" y="786" width="3" height="1" fill="#000"/>
<rect x="1501" y="786" width="3" height="1" fill="#000"/>
<rect x="1507" y="786" width="3" height="1" fill="#000"/>
<rect x="1513" y="786" width="3" height="1" fill="#000"/>
<rect x="1519" y="786" width="3" height="1" fill="#000"/>
<rect x="1525" y="786" width="3" height="1" fill="#000"/>
<rect x="1531" y="786" width="3" height="1" fill="#000"/>
<rect x="1537" y="786" width="3" height="1" fill="#000"/>
<rect x="1543" y="786" width="3" height="1" fill="#000"/>
<rect x="1549" y="786" width="3" height="1" fill="#000"/>
<rect x="1555" y="786" width="3" height="1" fill="#000"/>
<rect x="1561" y="786" width="3" height="1" fill="#000"/>
<rect x="1567" y="786" width="3" height="1" fill="#000"/>
<rect x="1573" y="786" width="3" height="1" fill="#000"/>
<rect x="1579" y="786" width="3" height="1" fill="#000"/>
<rect x="1585" y="786" width="3" height="1" fill="#000"/>
<rect x="1591" y="786" width="3" height="1" fill="#000"/>
<rect x="1597" y="786" width="3" height="1" fill="#000"/>
<rect x="1603" y="786" width="3" height="1" fill="#000"/>
<rect x="1609" y="786" width="3" height="1" fill="#000"/>
<rect x="1615" y="786" width="3" height="1" fill="#000"/>
<rect x="1621" y="786" width="3" height="1" fill="#000"/>
<rect x="1627" y="786" width="3" height="1" fill="#000"/>
<rect x="1633" y="786" width="3" height="1" fill="#000"/>
<rect x="1639" y="786" width="2" height="1" fill="#000"/>
<rect x="7" y="823" width="3" height="1" fill="#000"/>
<rect x="13" y="823" width="3" height="1" fill="#000"/>
<rect x="19" y="823" width="3" height="1" fill="#000"/>
<rect x="25" y="823" width="3" height="1" fill="#000"/>
<rect x="31" y="823" width="3" height="1" fill="#000"/>
<rect x="37" y="823" width="3" height="1" fill="#000"/>
<rect x="43" y="823" width="3" height="1" fill="#000"/>
<rect x="49" y="823" width="3" height="1" fill="#000"/>
<rect x="55" y="823" width="3" height="1" fill="#000"/>
<rect x="61" y="823" width="3" height="1" fill="#000"/>
<rect x="67" y="823" width="3" height="1" fill="#000"/>
<rect x="73" y="823" width="3" height="1" fill="#000"/>
<rect x="79" y="823" width="3" height="1" fill="#000"/>
<rect x="85" y="823" width="3" height="1" fill="#000"/>
<rect x="91" y="823" width="3" height="1" fill="#000"/>
<rect x="97" y="823" width="3" height="1" fill="#000"/>
<rect x="103" y="823" width="3" height="1" fill="#000"/>
<rect x="109" y="823" width="3" height="1" fill="#000"/>
<rect x="115" y="823" width="3" height="1" fill="#000"/>
<rect x="121" y="823" width="3" height="1" fill="#000"/>
<rect x="127" y="823" width="3" height="1" fill="#000"/>
<rect x="133" y="823" width="3" height="1" fill="#000"/>
<rect x="139" y="823" width="3" height="1" fill="#000"/>
<rect x="145" y="823" width="3" height="1" fill="#000"/>
<rect x="151" y="823" width="3" height="1" fill="#000"/>
<rect x="157" y="823" width="3" height="1" fill="#000"/>
<rect x="163" y="823" width="3" height="1" fill="#000"/>
<rect x="169" y="823" width="3" height="1" fill="#000"/>
<rect x="175" y="823" width="3" height="1" fill="#000"/>
<rect x="181" y="823" width="3" height="1" fill="#000"/>
<rect x="187" y="823" width="3" height="1" fill="#000"/>
<rect x="193" y="823" width="3" height="1" fill="#000"/>
<rect x="199" y="823" width="3" height="1" fill="#000"/>
<rect x="205" y="823" width="3" height="1" fill="#000"/>
<rect x="211" y="823" width="3" height="1" fill="#000"/>
<rect x="217" y="823" width="3" height="1" fill="#000"/>
<rect x="223" y="823" width="3" height="1" fill="#000"/>
<rect x="229" y="823" width="3" height="1" fill="#000"/>
<rect x="235" y="823" width="3" height="1" fill="#000"/>
<rect x="241" y="823" width="3" height="1" fill="#000"/>
<rect x="247" y="823" width="3" height="1" fill="#000"/>
<rect x="253" y="823" width="3" height="1" fill="#000"/>
<rect x="259" y="823" width="3" height="1" fill="#000"/>
<rect x="265" y="823" width="3" height="1" fill="#000"/>
<rect x="271" y="823" width="3" height="1" fill="#000"/>
<rect x="277" y="823" width="3" height="1" fill="#000"/>
<rect x="283" y="823" width="3" height="1" fill="#000"/>
<rect x="289" y="823" width="3" height="1" fill="#000"/>
<rect x="295" y="823" width="3" height="1" fill="#000"/>
<rect x="301" y="823" width="3" height="1" fill="#000"/>
<rect x="307" y="823" width="3" height="1" fill="#000"/>
<rect x="313" y="823" width="3" height="1" fill="#000"/>
<rect x="319" y="823" width="3" height="1" fill="#000"/>
<rect x="325" y="823" width="3" height="1" fill="#000"/>
<rect x="331" y="823" width="3" height="1" fill="#000"/>
<rect x="337" y="823" width="3" height="1" fill="#000"/>
<rect x="343" y="823" width="3" height="1" fill="#000"/>
<rect x="349" y="823" width="3" height="1" fill="#000"/>
<rect x="355" y="823" width="3" height="1" fill="#000"/>
<rect x="361" y="823" width="3" height="1" fill="#000"/>
<rect x="367" y="823" width="3" height="1" fill="#000"/>
<rect x="373" y="823" width="3" height="1" fill="#000"/>
<rect x="379" y="823" width="3" height="1" fill="#000"/>
<rect x="385" y="823" width="3" height="1" fill="#000"/>
<rect x="391" y="823" width="3" height="1" fill="#000"/>
<rect x="397" y="823" width="3" height="1" fill="#000"/>
<rect x="403" y="823" width="3" height="1" fill="#000"/>
<rect x="409" y="823" width="3" height="1" fill="#000"/>
<rect x="415" y="823" width="3" height="1" fill="#000"/>
<rect x="421" y="823" width="3" height="1" fill="#000"/>
<rect x="427" y="823" width="3" height="1" fill="#000"/>
<rect x="433" y="823" width="3" height="1" fill="#000"/>
<rect x="439" y="823" width="3" height="1" fill="#000"/>
<rect x="445" y="823" width="3" height="1" fill="#000"/>
<rect x="451" y="823" width="3" height="1" fill="#000"/>
<rect x="457" y="823" width="3" height="1" fill="#000"/>
<rect x="463" y="823" width="3" height="1" fill="#000"/>
<rect x="469" y="823" width="3" height="1" fill="#000"/>
<rect x="475" y="823" width="3" height="1" fill="#000"/>
<rect x="481" y="823" width="3" height="1" fill="#000"/>
<rect x="487" y="823" width="3" height="1" fill="#000"/>
<rect x="493" y="823" width="3" height="1" fill="#000"/>
<rect x="499" y="823" width="3" height="1" fill="#000"/>
<rect x="505" y="823" width="3" height="1" fill="#000"/>
<rect x="511" y="823" width="3" height="1" fill="#000"/>
<rect x="517" y="823" width="3" height="1" fill="#000"/>
<rect x="523" y="823" width="3" height="1" fill="#000"/>
<rect x="529" y="823" width="3" height="1" fill="#000"/>
<rect x="535" y="823" width="3" height="1" fill="#000"/>
<rect x="541" y="823" width="3" height="1" fill="#000"/>
<rect x="547" y="823" width="3" height="1" fill="#000"/>
<rect x="553" y="823" width="3" height="1" fill="#000"/>
<rect x="559" y="823" width="3" height="1" fill="#000"/>
<rect x="565" y="823" width="3" height="1" fill="#000"/>
<rect x="571" y="823" width="3" height="1" fill="#000"/>
<rect x="577" y="823" width="3" height="1" fill="#000"/>
<rect x="583" y="823" width="3" height="1" fill="#000"/>
<rect x="589" y="823" width="3" height="1" fill="#000"/>
<rect x="595" y="823" width="3" height="1" fill="#000"/>
<rect x="601" y="823" width="3" height="1" fill="#000"/>
<rect x="607" y="823" width="3" height="1" fill="#000"/>
<rect x="613" y="823" width="3" height="1" fill="#000"/>
<rect x="619" y="823" width="3" height="1" fill="#000"/>
<rect x="625" y="823" width="3" height="1" fill="#000"/>
<rect x="631" y="823" width="3" height="1" fill="#000"/>
<rect x="637" y="823" width="3" height="1" fill="#000"/>
<rect x="643" y="823" width="3" height="1" fill="#000"/>
<rect x="649" y="823" width="3" height="1" fill="#000"/>
<rect x="655" y="823" width="3" height="1" fill="#000"/>
<rect x="661" y="823" width="3" height="1" fill="#000"/>
<rect x="667" y="823" width="3" height="1" fill="#000"/>
<rect x="673" y="823" width="3" height="1" fill="#000"/>
<rect x="679" y="823" width="3" height="1" fill="#000"/>
<rect x="685" y="823" width="3" height="1" fill="#000"/>
<rect x="691" y="823" width="3" height="1" fill="#000"/>
<rect x="697" y="823" width="3" height="1" fill="#000"/>
<rect x="703" y="823" width="3" height="1" fill="#000"/>
<rect x="709" y="823" width="3" height="1" fill="#000"/>
<rect x="715" y="823" width="3" height="1" fill="#000"/>
<rect x="721" y="823" width="3" height="1" fill="#000"/>
<rect x="727" y="823" width="3" height="1" fill="#000"/>
<rect x="733" y="823" width="3" height="1" fill="#000"/>
<rect x="739" y="823" width="3" height="1" fill="#000"/>
<rect x="745" y="823" width="3" height="1" fill="#000"/>
<rect x="751" y="823" width="3" height="1" fill="#000"/>
<rect x="757" y="823" width="3" height="1" fill="#000"/>
<rect x="763" y="823" width="3" height="1" fill="#000"/>
<rect x="769" y="823" width="3" height="1" fill="#000"/>
<rect x="775" y="823" width="3" height="1" fill="#000"/>
<rect x="781" y="823" width="3" height="1" fill="#000"/>
<rect x="787" y="823" width="3" height="1" fill="#000"/>
<rect x="793" y="823" width="3" height="1" fill="#000"/>
<rect x="799" y="823" width="3" height="1" fill="#000"/>
<rect x="805" y="823" width="3" height="1" fill="#000"/>
<rect x="811" y="823" width="3" height="1" fill="#000"/>
<rect x="817" y="823" width="3" height="1" fill="#000"/>
<rect x="823" y="823" width="3" height="1" fill="#000"/>
<rect x="829" y="823" width="3" height="1" fill="#000"/>
<rect x="835" y="823" width="3" height="1" fill="#000"/>
<rect x="841" y="823" width="3" height="1" fill="#000"/>
<rect x="847" y="823" width="3" height="1" fill="#000"/>
<rect x="853" y="823" width="3" height="1" fill="#000"/>
<rect x="859" y="823" width="3" height="1" fill="#000"/>
<rect x="865" y="823" width="3" height="1" fill="#000"/>
<rect x="871" y="823" width="3" height="1" fill="#000"/>
<rect x="877" y="823" width="3" height="1" fill="#000"/>
<rect x="883" y="823" width="3" height="1" fill="#000"/>
<rect x="889" y="823" width="3" height="1" fill="#000"/>
<rect x="895" y="823" width="3" height="1" fill="#000"/>
<rect x="901" y="823" width="3" height="1" fill="#000"/>
<rect x="907" y="823" width="3" height="1" fill="#000"/>
<rect x="913" y="823" width="3" height="1" fill="#000"/>
<rect x="919" y="823" width="3" height="1" fill="#000"/>
<rect x="925" y="823" width="3" height="1" fill="#000"/>
<rect x="931" y="823" width="3" height="1" fill="#000"/>
<rect x="937" y="823" width="3" height="1" fill="#000"/>
<rect x="943" y="823" width="3" height="1" fill="#000"/>
<rect x="949" y="823" width="3" height="1" fill="#000"/>
<rect x="955" y="823" width="3" height="1" fill="#000"/>
<rect x="961" y="823" width="3" height="1" fill="#000"/>
<rect x="967" y="823" width="3" height="1" fill="#000"/>
<rect x="973" y="823" width="3" height="1" fill="#000"/>
<rect x="979" y="823" width="3" height="1" fill="#000"/>
<rect x="985" y="823" width="3" height="1" fill="#000"/>
<rect x="991" y="823" width="3" height="1" fill="#000"/>
<rect x="997" y="823" width="3" height="1" fill="#000"/>
<rect x="1003" y="823" width="3" height="1" fill="#000"/>
<rect x="1009" y="823" width="3" height="1" fill="#000"/>
<rect x="1015" y="823" width="3" height="1" fill="#000"/>
<rect x="1021" y="823" width="3" height="1" fill="#000"/>
<rect x="1027" y="823" width="3" height="1" fill="#000"/>
<rect x="1033" y="823" width="3" height="1" fill="#000"/>
<rect x="1039" y="823" width="3" height="1" fill="#000"/>
<rect x="1045" y="823" width="3" height="1" fill="#000"/>
<rect x="1051" y="823" width="3" height="1" fill="#000"/>
<rect x="1057" y="823" width="3" height="1" fill="#000"/>
<rect x="1063" y="823" width="3" height="1" fill="#000"/>
<rect x="1069" y="823" width="3" height="1" fill="#000"/>
<rect x="1075" y="823" width="3" height="1" fill="#000"/>
<rect x="1081" y="823" width="3" height="1" fill="#000"/>
<rect x="1087" y="823" width="3" height="1" fill="#000"/>
<rect x="1093" y="823" width="3" height="1" fill="#000"/>
<rect x="1099" y="823" width="3" height="1" fill="#000"/>
<rect x="1105" y="823" width="3" height="1" fill="#000"/>
<rect x="1111" y="823" width="3" height="1" fill="#000"/>
<rect x="1117" y="823" width="3" height="1" fill="#000"/>
<rect x="1123" y="823" width="3" height="1" fill="#000"/>
<rect x="1129" y="823" width="3" height="1" fill="#000"/>
<rect x="1135" y="823" width="3" height="1" fill="#000"/>
<rect x="1141" y="823" width="3" height="1" fill="#000"/>
<rect x="1147" y="823" width="3" height="1" fill="#000"/>
<rect x="1153" y="823" width="3" height="1" fill="#000"/>
<rect x="1159" y="823" width="3" height="1" fill="#000"/>
<rect x="1165" y="823" width="3" height="1" fill="#000"/>
<rect x="1171" y="823" width="3" height="1" fill="#000"/>
<rect x="1177" y="823" width="3" height="1" fill="#000"/>
<rect x="1183" y="823" width="3" height="1" fill="#000"/>
<rect x="1189" y="823" width="3" height="1" fill="#000"/>
<rect x="1195" y="823" width="3" height="1" fill="#000"/>
<rect x="1201" y="823" width="3" height="1" fill="#000"/>
<rect x="1207" y="823" width="3" height="1" fill="#000"/>
<rect x="1213" y="823" width="3" height="1" fill="#000"/>
<rect x="1219" y="823" width="3" height="1" fill="#000"/>
<rect x="1225" y="823" width="3" height="1" fill="#000"/>
<rect x="1231" y="823" width="3" height="1" fill="#000"/>
<rect x="1237" y="823" width="3" height="1" fill="#000"/>
<rect x="1243" y="823" width="3" height="1" fill="#000"/>
<rect x="1249" y="823" width="3" height="1" fill="#000"/>
<rect x="1255" y="823" width="3" height="1" fill="#000"/>
<rect x="1261" y="823" width="3" height="1" fill="#000"/>
<rect x="1267" y="823" width="3" height="1" fill="#000"/>
<rect x="1273" y="823" width="3" height="1" fill="#000"/>
<rect x="1279" y="823" width="3" height="1" fill="#000"/>
<rect x="1285" y="823" width="3" height="1" fill="#000"/>
<rect x="1291" y="823" width="3" height="1" fill="#000"/>
<rect x="1297" y="823" width="3" height="1" fill="#000"/>
<rect x="1303" y="823" width="3" height="1" fill="#000"/>
<rect x="1309" y="823" width="3" height="1" fill="#000"/>
<rect x="1315" y="823" width="3" height="1" fill="#000"/>
<rect x="1321" y="823" width="3" height="1" fill="#000"/>
<rect x="1327" y="823" width="3" height="1" fill="#000"/>
<rect x="1333" y="823" width="3" height="1" fill="#000"/>
<rect x="1339" y="823" width="3" height="1" fill="#000"/>
<rect x="1345" y="823" width="3" height="1" fill="#000"/>
<rect x="1351" y="823" width="3" height="1" fill="#000"/>
<rect x="1357" y="823" width="3" height="1" fill="#000"/>
<rect x="1363" y="823" width="3" height="1" fill="#000"/>
<rect x="1369" y="823" width="3" height="1" fill="#000"/>
<rect x="1375" y="823" width="3" height="1" fill="#000"/>
<rect x="1381" y="823" width="3" height="1" fill="#000"/>
<rect x="1387" y="823" width="3" height="1" fill="#000"/>
<rect x="1393" y="823" width="3" height="1" fill="#000"/>
<rect x="1399" y="823" width="3" height="1" fill="#000"/>
<rect x="1405" y="823" width="3" height="1" fill="#000"/>
<rect x="1411" y="823" width="3" height="1" fill="#000"/>
<rect x="1417" y="823" width="3" height="1" fill="#000"/>
<rect x="1423" y="823" width="3" height="1" fill="#000"/>
<rect x="1429" y="823" width="3" height="1" fill="#000"/>
<rect x="1435" y="823" width="3" height="1" fill="#000"/>
<rect x="1441" y="823" width="3" height="1" fill="#000"/>
<rect x="1447" y="823" width="3" height="1" fill="#000"/>
<rect x="1453" y="823" width="3" height="1" fill="#000"/>
<rect x="1459" y="823" width="3" height="1" fill="#000"/>
<rect x="1465" y="823" width="3" height="1" fill="#000"/>
<rect x="1471" y="823" width="3" height="1" fill="#000"/>
<rect x="1477" y="823" width="3" height="1" fill="#000"/>
<rect x="1483" y="823" width="3" height="1" fill="#000"/>
<rect x="1489" y="823" width="3" height="1" fill="#000"/>
<rect x="1495" y="823" width="3" height="1" fill="#000"/>
<rect x="1501" y="823" width="3" height="1" fill="#000"/>
<rect x="1507" y="823" width="3" height="1" fill="#000"/>
<rect x="1513" y="823" width="3" height="1" fill="#000"/>
<rect x="1519" y="823" width="3" height="1" fill="#000"/>
<rect x="1525" y="823" width="3" height="1" fill="#000"/>
<rect x="1531" y="823" width="3" height="1" fill="#000"/>
<rect x="1537" y="823" width="3" height="1" fill="#000"/>
<rect x="1543" y="823" width="3" height="1" fill="#000"/>
<rect x="1549" y="823" width="3" height="1" fill="#000"/>
<rect x="1555" y="823" width="3" height="1" fill="#000"/>
<rect x="1561" y="823" width="3" height="1" fill="#000"/>
<rect x="1567" y="823" width="3" height="1" fill="#000"/>
<rect x="1573" y="823" width="3" height="1" fill="#000"/>
<rect x="1579" y="823" width="3" height="1" fill="#000"/>
<rect x="1585" y="823" width="3" height="1" fill="#000"/>
<rect x="1591" y="823" width="3" height="1" fill="#000"/>
<rect x="1597" y="823" width="3" height="1" fill="#000"/>
<rect x="1603" y="823" width="3" height="1" fill="#000"/>
<rect x="1609" y="823" width="3" height="1" fill="#000"/>
<rect x="1615" y="823" width="3" height="1" fill="#000"/>
<rect x="1621" y="823" width="3" height="1" fill="#000"/>
<rect x="1627" y="823" width="3" height="1" fill="#000"/>
<rect x="1633" y="823" width="3" height="1" fill="#000"/>
<rect x="1639" y="823" width="2" height="1" fill="#000"/>
<rect x="1642" y="735" width="2" height="1" fill="#000"/>
<rect x="1642" y="838" width="2" height="1" fill="#000"/>
</g>
<polyline points="5.8,795.9 21.8,792.2 37.8,791.7 53.8,791.7 69.8,801.6 85.8,801.6 101.8,800.9 117.8,800.9 133.8,801.6 149.8,801.6 165.8,801.6 181.8,797.6 197.8,798.6 213.8,798.6 229.8,798.6 245.8,796.6 261.8,802.9 277.8,798.9 293.8,800.9 309.8,775.0 325.8,775.0 341.8,774.0 357.8,766.0 373.8,774.0 389.8,782.2 405.8,786.7 421.8,786.7 437.8,783.0 453.8,783.0 469.8,780.2 485.8,776.0 501.8,773.3 517.8,772.3 533.8,769.5 549.8,773.8 565.8,774.5 581.8,774.8 597.8,778.7 613.8,774.0 629.8,773.8 645.8,771.8 661.8,777.3 677.8,781.0 693.8,785.5 709.8,783.7 725.8,787.4 741.8,789.7 757.8,781.0 773.8,777.5 789.8,785.7 805.8,785.7 821.8,788.7 837.8,788.9 853.8,790.4 869.8,788.7 885.8,785.0 901.8,781.0 917.8,776.5 933.8,784.7 949.8,784.7 965.8,785.7 981.8,782.0 997.8,781.0 1013.8,780.5 1029.8,775.8 1045.8,778.7 1061.8,772.0 1077.8,770.5 1093.8,769.8 1109.8,775.5 1125.8,772.8 1141.8,775.8 1157.8,772.8 1173.8,779.2 1189.8,780.0 1205.8,780.5 1221.8,781.0 1237.8,787.7 1253.8,784.7 1269.8,794.4 1285.8,796.6 1301.8,796.6 1317.8,788.9 1333.8,789.7 1349.8,783.2 1365.8,777.7 1381.8,777.5" fill="none" stroke="#1e90ff" stroke-width="2" stroke-linejoin="round" shape-rendering="crispEdges"/>
<text class="t" x="9.5" y="745.5" textLength="67" lengthAdjust="spacing">RSI(14) 59.4477</text>
<text class="t" x="1644.5" y="743.5">100</text>
<text class="t" x="1644.5" y="758.5">80</text>
<text class="t" x="1644.5" y="789.5">50</text>
<text class="t" x="1644.5" y="826.5">15</text>
<text class="t" x="1644.5" y="835.5">0</text>
<g class="c">
<rect x="5" y="840" width="1" height="3" fill="#000"/>
<rect x="69" y="840" width="1" height="3" fill="#000"/>
<rect x="133" y="840" width="1" height="3" fill="#000"/>
<rect x="197" y="840" width="1" height="3" fill="#000"/>
<rect x="261" y="840" width="1" height="3" fill="#000"/>
<rect x="325" y="840" width="1" height="3" fill="#000"/>
<rect x="389" y="840" width="1" height="3" fill="#000"/>
<rect x="453" y="840" width="1" height="3" fill="#000"/>
<rect x="517" y="840" width="1" height="3" fill="#000"/>
<rect x="581" y="840" width="1" height="3" fill="#000"/>
<rect x="645" y="840" width="1" height="3" fill="#000"/>
<rect x="709" y="840" width="1" height="3" fill="#000"/>
<rect x="773" y="840" width="1" height="3" fill="#000"/>
<rect x="837" y="840" width="1" height="3" fill="#000"/>
<rect x="901" y="840" width="1" height="3" fill="#000"/>
<rect x="965" y="840" width="1" height="3" fill="#000"/>
<rect x="1029" y="840" width="1" height="3" fill="#000"/>
<rect x="1093" y="840" width="1" height="3" fill="#000"/>
<rect x="1157" y="840" width="1" height="3" fill="#000"/>
<rect x="1221" y="840" width="1" height="3" fill="#000"/>
<rect x="1285" y="840" width="1" height="3" fill="#000"/>
<rect x="1349" y="840" width="1" height="3" fill="#000"/>
</g>
<text class="t" x="5" y="851.5" textLength="49.5" lengthAdjust="spacing">10 Oct 2022</text>
<text class="t" x="68.5" y="851.5" textLength="53" lengthAdjust="spacing">11 Oct 00:00</text>
<text class="t" x="132.5" y="851.5" textLength="53" lengthAdjust="spacing">11 Oct 18:55</text>
<text class="t" x="196.5" y="851.5" textLength="53" lengthAdjust="spacing">12 Oct 10:55</text>
<text class="t" x="260.5" y="851.5" textLength="53" lengthAdjust="spacing">13 Oct 00:00</text>
<text class="t" x="324.5" y="851.5" textLength="53" lengthAdjust="spacing">13 Oct 18:55</text>
<text class="t" x="388.5" y="851.5" textLength="53" lengthAdjust="spacing">14 Oct 10:55</text>
<text class="t" x="452.5" y="851.5" textLength="53" lengthAdjust="spacing">17 Oct 00:00</text>
<text class="t" x="516.5" y="851.5" textLength="53" lengthAdjust="spacing">17 Oct 18:55</text>
<text class="t" x="580.5" y="851.5" textLength="53" lengthAdjust="spacing">18 Oct 10:55</text>
<text class="t" x="644.5" y="851.5" textLength="53" lengthAdjust="spacing">19 Oct 00:00</text>
<text class="t" x="708.5" y="851.5" textLength="53" lengthAdjust="spacing">19 Oct 18:55</text>
<text class="t" x="772.5" y="851.5" textLength="53" lengthAdjust="spacing">20 Oct 10:55</text>
<text class="t" x="836.5" y="851.5" textLength="53" lengthAdjust="spacing">21 Oct 00:00</text>
<text class="t" x="900.5" y="851.5" textLength="53" lengthAdjust="spacing">21 Oct 18:55</text>
<text class="t" x="964.5" y="851.5" textLength="53" lengthAdjust="spacing">24 Oct 10:55</text>
<text class="t" x="1028.5" y="851.5" textLength="53" lengthAdjust="spacing">25 Oct 00:00</text>
<text class="t" x="1092.5" y="851.5" textLength="53" lengthAdjust="spacing">25 Oct 18:55</text>
<text class="t" x="1156.5" y="851.5" textLength="53" lengthAdjust="spacing">26 Oct 10:55</text>
<text class="t" x="1220.5" y="851.5" textLength="53" lengthAdjust="spacing">27 Oct 00:00</text>
<text class="t" x="1284.5" y="851.5" textLength="53" lengthAdjust="spacing">27 Oct 18:55</text>
<text class="t" x="1348.5" y="851.5" textLength="53" lengthAdjust="spacing">28 Oct 10:55</text>
<g fill="#e8131d" stroke="none">
<line x1="1332.5" y1="256.3" x2="1414.4" y2="118.2" stroke="#e8131d" stroke-width="3.3" stroke-linecap="butt"/>
<polygon points="1422.5,103.8 1405.8,114.5 1421.1,123.3"/>
</g>
</svg></body></html>
